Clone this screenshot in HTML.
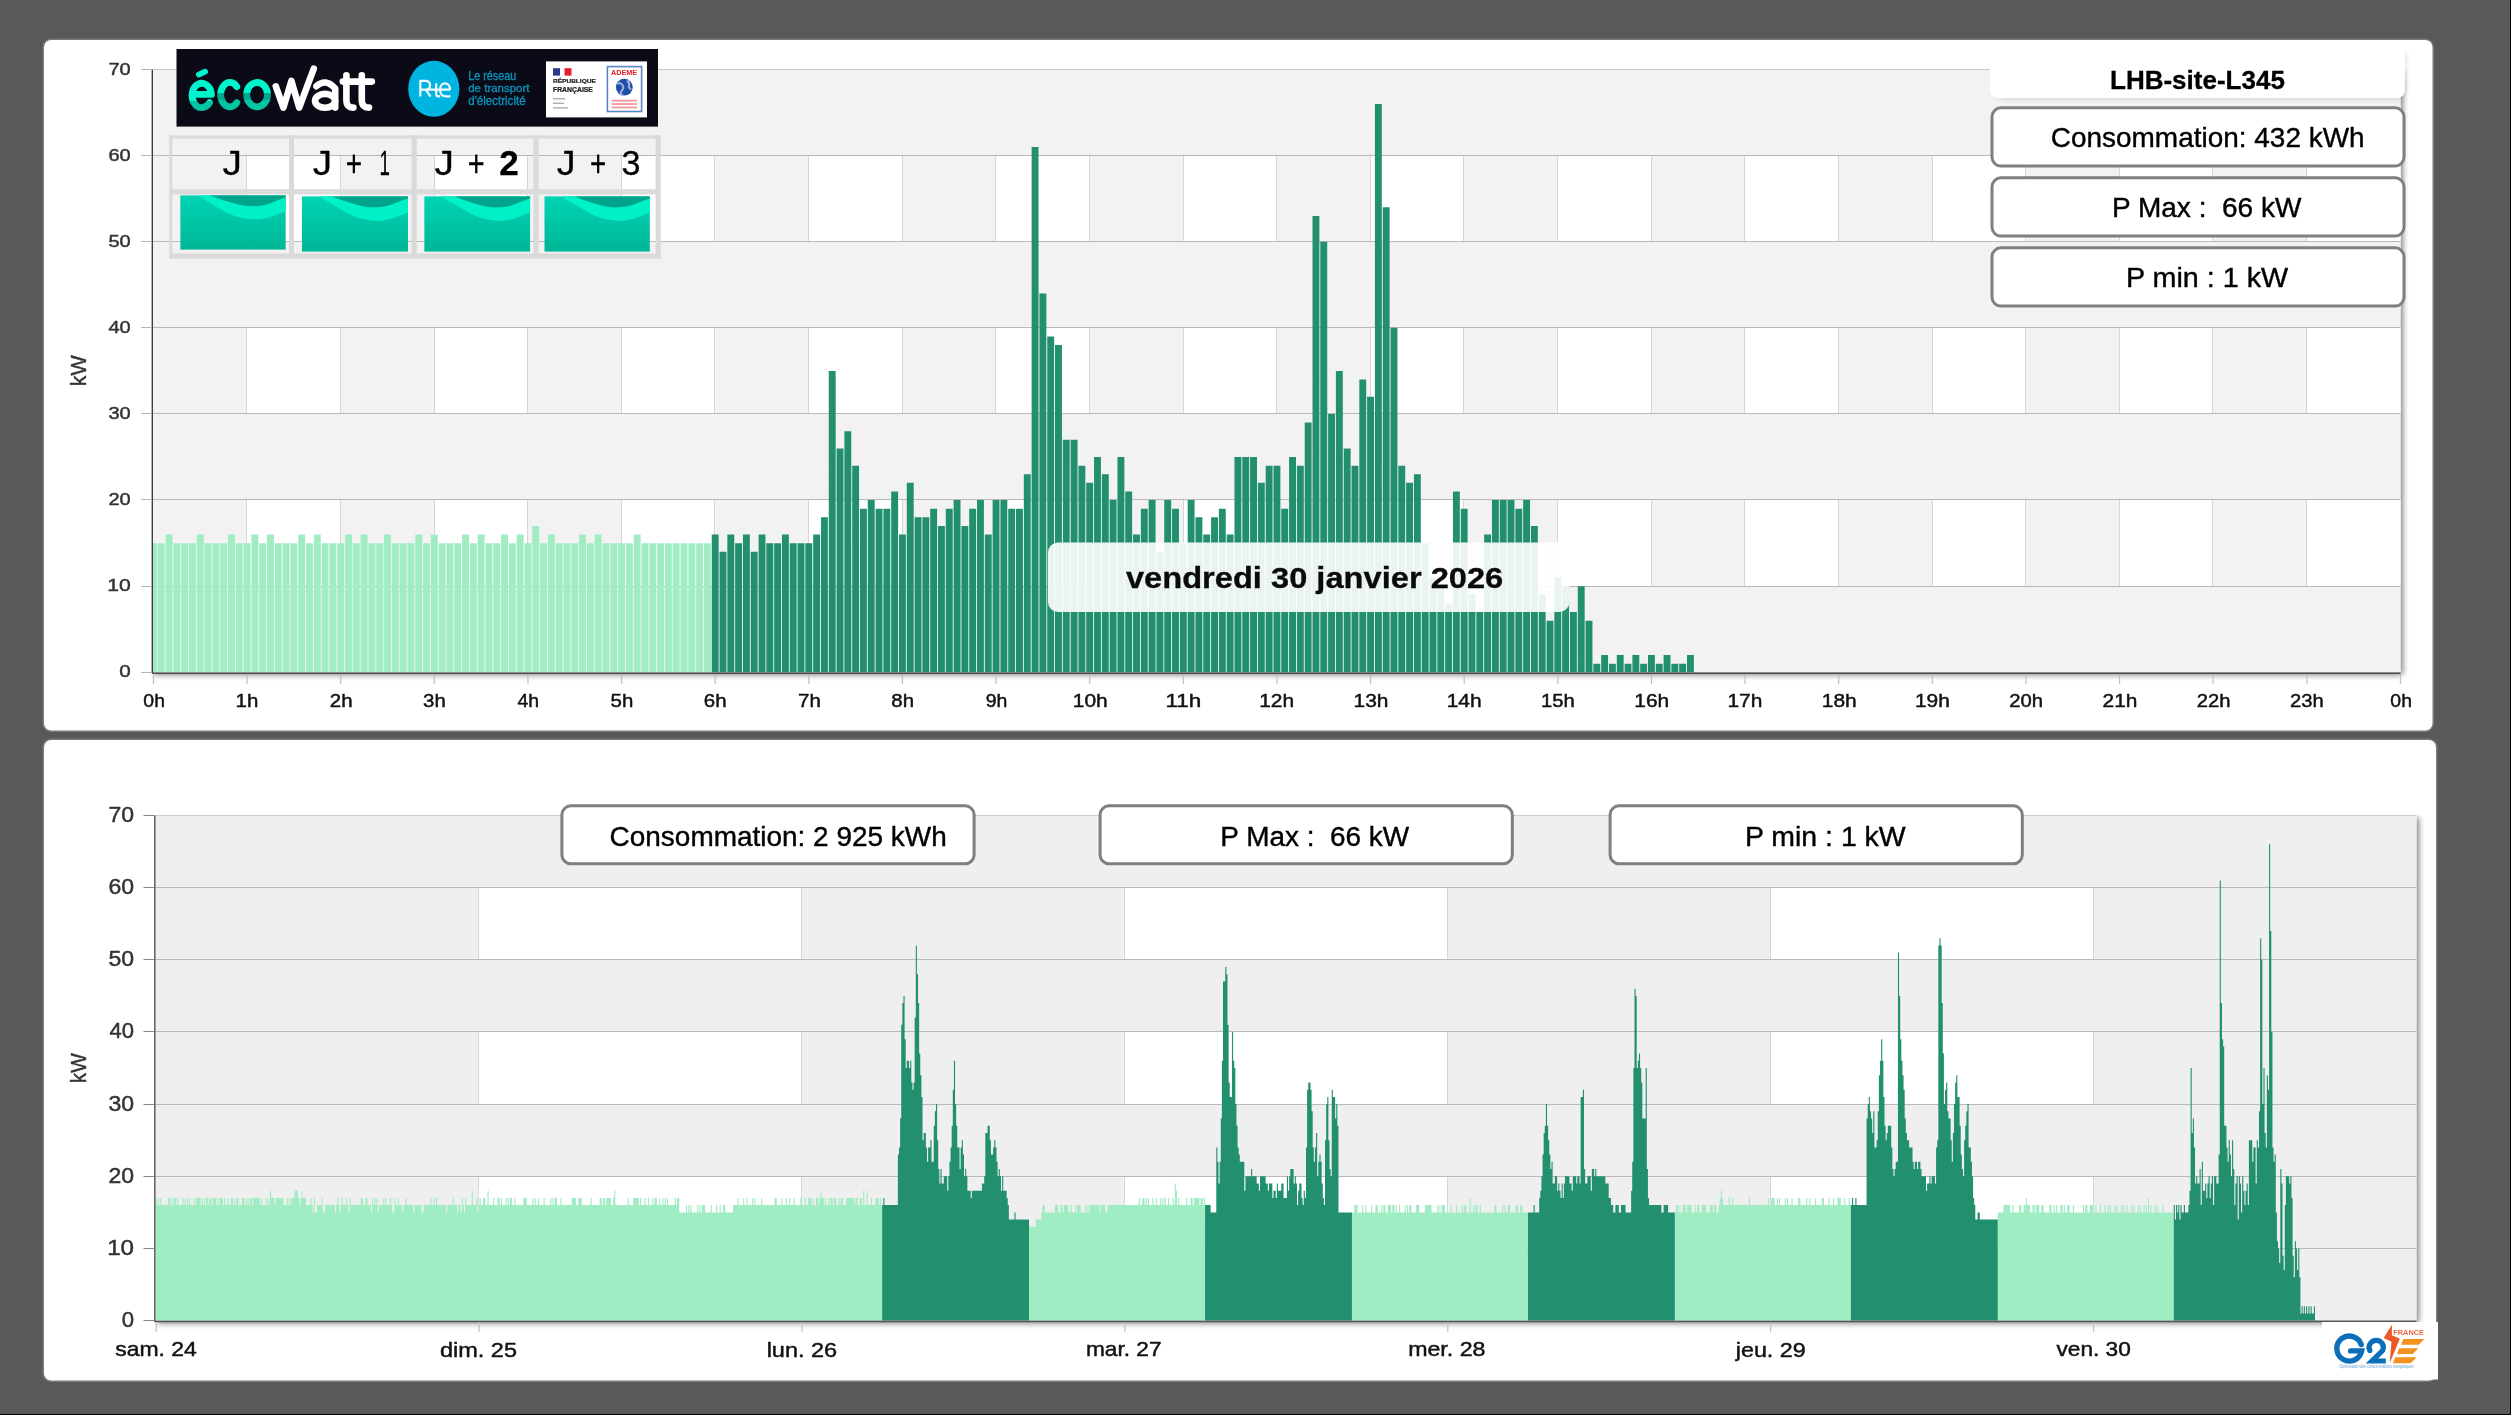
<!DOCTYPE html>
<html><head><meta charset="utf-8"><style>
html,body{margin:0;padding:0;width:2511px;height:1415px;overflow:hidden;background:#595959;}
</style></head><body>
<svg xmlns="http://www.w3.org/2000/svg" width="2511" height="1415" viewBox="0 0 2511 1415" style="position:absolute;left:0;top:0;will-change:transform"><defs><filter id="sh" x="-5%" y="-5%" width="110%" height="115%"><feGaussianBlur stdDeviation="3"/></filter><clipPath id="ct"><rect x="152.5" y="68.5" width="2248.0" height="604.0"/></clipPath><clipPath id="cb"><rect x="155.0" y="814.4" width="2261.5" height="506.6"/></clipPath><linearGradient id="wv" x1="0" y1="0" x2="0" y2="1"><stop offset="0" stop-color="#00d4b4"/><stop offset="1" stop-color="#00b696"/></linearGradient><linearGradient id="eco" x1="0" y1="0" x2="0" y2="1"><stop offset="0.55" stop-color="#00f0c8"/><stop offset="0.56" stop-color="#00c6a2"/></linearGradient></defs><rect x="0" y="0" width="2511" height="1415" fill="#595959"/><rect x="2510" y="0" width="1" height="1415" fill="#000"/><rect x="0" y="1414" width="2511" height="1" fill="#000"/><rect x="43.25" y="39.25" width="2390" height="692" rx="8" fill="#fff" stroke="#7a7a7a" stroke-width="1.5"/><rect x="43.25" y="739.25" width="2393.5" height="642" rx="8" fill="#fff" stroke="#7a7a7a" stroke-width="1.5"/><clipPath id="shc152"><rect x="2400.5" y="69.5" width="20" height="623.0"/><rect x="152.5" y="672.5" width="2268.0" height="20"/></clipPath><g clip-path="url(#shc152)"><rect x="154.5" y="71.5" width="2248.0" height="603.0" fill="#000" opacity="0.55" filter="url(#sh)"/></g><rect x="152.5" y="69.5" width="2248.0" height="603.0" fill="#f2f2f2"/><rect x="247.07" y="500.08" width="93.62" height="86.11" fill="#fff"/><rect x="434.32" y="500.08" width="93.63" height="86.11" fill="#fff"/><rect x="621.58" y="500.08" width="93.62" height="86.11" fill="#fff"/><rect x="808.83" y="500.08" width="93.62" height="86.11" fill="#fff"/><rect x="996.08" y="500.08" width="93.62" height="86.11" fill="#fff"/><rect x="1183.33" y="500.08" width="93.62" height="86.11" fill="#fff"/><rect x="1370.58" y="500.08" width="93.62" height="86.11" fill="#fff"/><rect x="1557.83" y="500.08" width="93.62" height="86.11" fill="#fff"/><rect x="1745.08" y="500.08" width="93.62" height="86.11" fill="#fff"/><rect x="1932.33" y="500.08" width="93.62" height="86.11" fill="#fff"/><rect x="2119.57" y="500.08" width="93.62" height="86.11" fill="#fff"/><rect x="2306.82" y="500.08" width="93.62" height="86.11" fill="#fff"/><rect x="246" y="500.08" width="1" height="86.11" fill="#d6d6d6"/><rect x="340" y="500.08" width="1" height="86.11" fill="#d6d6d6"/><rect x="434" y="500.08" width="1" height="86.11" fill="#d6d6d6"/><rect x="527" y="500.08" width="1" height="86.11" fill="#d6d6d6"/><rect x="621" y="500.08" width="1" height="86.11" fill="#d6d6d6"/><rect x="714" y="500.08" width="1" height="86.11" fill="#d6d6d6"/><rect x="808" y="500.08" width="1" height="86.11" fill="#d6d6d6"/><rect x="902" y="500.08" width="1" height="86.11" fill="#d6d6d6"/><rect x="995" y="500.08" width="1" height="86.11" fill="#d6d6d6"/><rect x="1089" y="500.08" width="1" height="86.11" fill="#d6d6d6"/><rect x="1183" y="500.08" width="1" height="86.11" fill="#d6d6d6"/><rect x="1276" y="500.08" width="1" height="86.11" fill="#d6d6d6"/><rect x="1370" y="500.08" width="1" height="86.11" fill="#d6d6d6"/><rect x="1463" y="500.08" width="1" height="86.11" fill="#d6d6d6"/><rect x="1557" y="500.08" width="1" height="86.11" fill="#d6d6d6"/><rect x="1651" y="500.08" width="1" height="86.11" fill="#d6d6d6"/><rect x="1744" y="500.08" width="1" height="86.11" fill="#d6d6d6"/><rect x="1838" y="500.08" width="1" height="86.11" fill="#d6d6d6"/><rect x="1932" y="500.08" width="1" height="86.11" fill="#d6d6d6"/><rect x="2025" y="500.08" width="1" height="86.11" fill="#d6d6d6"/><rect x="2119" y="500.08" width="1" height="86.11" fill="#d6d6d6"/><rect x="2212" y="500.08" width="1" height="86.11" fill="#d6d6d6"/><rect x="2306" y="500.08" width="1" height="86.11" fill="#d6d6d6"/><rect x="247.07" y="327.86" width="93.62" height="86.11" fill="#fff"/><rect x="434.32" y="327.86" width="93.63" height="86.11" fill="#fff"/><rect x="621.58" y="327.86" width="93.62" height="86.11" fill="#fff"/><rect x="808.83" y="327.86" width="93.62" height="86.11" fill="#fff"/><rect x="996.08" y="327.86" width="93.62" height="86.11" fill="#fff"/><rect x="1183.33" y="327.86" width="93.62" height="86.11" fill="#fff"/><rect x="1370.58" y="327.86" width="93.62" height="86.11" fill="#fff"/><rect x="1557.83" y="327.86" width="93.62" height="86.11" fill="#fff"/><rect x="1745.08" y="327.86" width="93.62" height="86.11" fill="#fff"/><rect x="1932.33" y="327.86" width="93.62" height="86.11" fill="#fff"/><rect x="2119.57" y="327.86" width="93.62" height="86.11" fill="#fff"/><rect x="2306.82" y="327.86" width="93.62" height="86.11" fill="#fff"/><rect x="246" y="327.86" width="1" height="86.11" fill="#d6d6d6"/><rect x="340" y="327.86" width="1" height="86.11" fill="#d6d6d6"/><rect x="434" y="327.86" width="1" height="86.11" fill="#d6d6d6"/><rect x="527" y="327.86" width="1" height="86.11" fill="#d6d6d6"/><rect x="621" y="327.86" width="1" height="86.11" fill="#d6d6d6"/><rect x="714" y="327.86" width="1" height="86.11" fill="#d6d6d6"/><rect x="808" y="327.86" width="1" height="86.11" fill="#d6d6d6"/><rect x="902" y="327.86" width="1" height="86.11" fill="#d6d6d6"/><rect x="995" y="327.86" width="1" height="86.11" fill="#d6d6d6"/><rect x="1089" y="327.86" width="1" height="86.11" fill="#d6d6d6"/><rect x="1183" y="327.86" width="1" height="86.11" fill="#d6d6d6"/><rect x="1276" y="327.86" width="1" height="86.11" fill="#d6d6d6"/><rect x="1370" y="327.86" width="1" height="86.11" fill="#d6d6d6"/><rect x="1463" y="327.86" width="1" height="86.11" fill="#d6d6d6"/><rect x="1557" y="327.86" width="1" height="86.11" fill="#d6d6d6"/><rect x="1651" y="327.86" width="1" height="86.11" fill="#d6d6d6"/><rect x="1744" y="327.86" width="1" height="86.11" fill="#d6d6d6"/><rect x="1838" y="327.86" width="1" height="86.11" fill="#d6d6d6"/><rect x="1932" y="327.86" width="1" height="86.11" fill="#d6d6d6"/><rect x="2025" y="327.86" width="1" height="86.11" fill="#d6d6d6"/><rect x="2119" y="327.86" width="1" height="86.11" fill="#d6d6d6"/><rect x="2212" y="327.86" width="1" height="86.11" fill="#d6d6d6"/><rect x="2306" y="327.86" width="1" height="86.11" fill="#d6d6d6"/><rect x="247.07" y="155.64" width="93.62" height="86.11" fill="#fff"/><rect x="434.32" y="155.64" width="93.63" height="86.11" fill="#fff"/><rect x="621.58" y="155.64" width="93.62" height="86.11" fill="#fff"/><rect x="808.83" y="155.64" width="93.62" height="86.11" fill="#fff"/><rect x="996.08" y="155.64" width="93.62" height="86.11" fill="#fff"/><rect x="1183.33" y="155.64" width="93.62" height="86.11" fill="#fff"/><rect x="1370.58" y="155.64" width="93.62" height="86.11" fill="#fff"/><rect x="1557.83" y="155.64" width="93.62" height="86.11" fill="#fff"/><rect x="1745.08" y="155.64" width="93.62" height="86.11" fill="#fff"/><rect x="1932.33" y="155.64" width="93.62" height="86.11" fill="#fff"/><rect x="2119.57" y="155.64" width="93.62" height="86.11" fill="#fff"/><rect x="2306.82" y="155.64" width="93.62" height="86.11" fill="#fff"/><rect x="246" y="155.64" width="1" height="86.11" fill="#d6d6d6"/><rect x="340" y="155.64" width="1" height="86.11" fill="#d6d6d6"/><rect x="434" y="155.64" width="1" height="86.11" fill="#d6d6d6"/><rect x="527" y="155.64" width="1" height="86.11" fill="#d6d6d6"/><rect x="621" y="155.64" width="1" height="86.11" fill="#d6d6d6"/><rect x="714" y="155.64" width="1" height="86.11" fill="#d6d6d6"/><rect x="808" y="155.64" width="1" height="86.11" fill="#d6d6d6"/><rect x="902" y="155.64" width="1" height="86.11" fill="#d6d6d6"/><rect x="995" y="155.64" width="1" height="86.11" fill="#d6d6d6"/><rect x="1089" y="155.64" width="1" height="86.11" fill="#d6d6d6"/><rect x="1183" y="155.64" width="1" height="86.11" fill="#d6d6d6"/><rect x="1276" y="155.64" width="1" height="86.11" fill="#d6d6d6"/><rect x="1370" y="155.64" width="1" height="86.11" fill="#d6d6d6"/><rect x="1463" y="155.64" width="1" height="86.11" fill="#d6d6d6"/><rect x="1557" y="155.64" width="1" height="86.11" fill="#d6d6d6"/><rect x="1651" y="155.64" width="1" height="86.11" fill="#d6d6d6"/><rect x="1744" y="155.64" width="1" height="86.11" fill="#d6d6d6"/><rect x="1838" y="155.64" width="1" height="86.11" fill="#d6d6d6"/><rect x="1932" y="155.64" width="1" height="86.11" fill="#d6d6d6"/><rect x="2025" y="155.64" width="1" height="86.11" fill="#d6d6d6"/><rect x="2119" y="155.64" width="1" height="86.11" fill="#d6d6d6"/><rect x="2212" y="155.64" width="1" height="86.11" fill="#d6d6d6"/><rect x="2306" y="155.64" width="1" height="86.11" fill="#d6d6d6"/><rect x="152.5" y="672" width="2248.0" height="1" fill="#b9b9b9"/><rect x="152.5" y="586" width="2248.0" height="1" fill="#b9b9b9"/><rect x="152.5" y="499" width="2248.0" height="1" fill="#b9b9b9"/><rect x="152.5" y="413" width="2248.0" height="1" fill="#b9b9b9"/><rect x="152.5" y="327" width="2248.0" height="1" fill="#b9b9b9"/><rect x="152.5" y="241" width="2248.0" height="1" fill="#b9b9b9"/><rect x="152.5" y="155" width="2248.0" height="1" fill="#b9b9b9"/><rect x="152.5" y="69" width="2248.0" height="1" fill="#cdcdcd"/><g clip-path="url(#ct)"><path d="M152.50 672.5V543.13H156.90V672.5ZM157.80 672.5V543.13H164.70V672.5ZM165.60 672.5V534.52H172.50V672.5ZM173.41 672.5V543.13H180.31V672.5ZM181.21 672.5V543.13H188.11V672.5ZM189.01 672.5V543.13H195.91V672.5ZM196.81 672.5V534.52H203.71V672.5ZM204.61 672.5V543.13H211.51V672.5ZM212.42 672.5V543.13H219.32V672.5ZM220.22 672.5V543.13H227.12V672.5ZM228.02 672.5V534.52H234.92V672.5ZM235.82 672.5V543.13H242.72V672.5ZM243.62 672.5V543.13H250.52V672.5ZM251.43 672.5V534.52H258.33V672.5ZM259.23 672.5V543.13H266.13V672.5ZM267.03 672.5V534.52H273.93V672.5ZM274.83 672.5V543.13H281.73V672.5ZM282.63 672.5V543.13H289.53V672.5ZM290.44 672.5V543.13H297.34V672.5ZM298.24 672.5V534.52H305.14V672.5ZM306.04 672.5V543.13H312.94V672.5ZM313.84 672.5V534.52H320.74V672.5ZM321.64 672.5V543.13H328.54V672.5ZM329.45 672.5V543.13H336.35V672.5ZM337.25 672.5V543.13H344.15V672.5ZM345.05 672.5V534.52H351.95V672.5ZM352.85 672.5V543.13H359.75V672.5ZM360.65 672.5V534.52H367.55V672.5ZM368.46 672.5V543.13H375.36V672.5ZM376.26 672.5V543.13H383.16V672.5ZM384.06 672.5V534.52H390.96V672.5ZM391.86 672.5V543.13H398.76V672.5ZM399.66 672.5V543.13H406.56V672.5ZM407.47 672.5V543.13H414.37V672.5ZM415.27 672.5V534.52H422.17V672.5ZM423.07 672.5V543.13H429.97V672.5ZM430.87 672.5V534.52H437.77V672.5ZM438.67 672.5V543.13H445.57V672.5ZM446.48 672.5V543.13H453.38V672.5ZM454.28 672.5V543.13H461.18V672.5ZM462.08 672.5V534.52H468.98V672.5ZM469.88 672.5V543.13H476.78V672.5ZM477.68 672.5V534.52H484.58V672.5ZM485.49 672.5V543.13H492.39V672.5ZM493.29 672.5V543.13H500.19V672.5ZM501.09 672.5V534.52H507.99V672.5ZM508.89 672.5V543.13H515.79V672.5ZM516.69 672.5V534.52H523.59V672.5ZM524.50 672.5V543.13H531.40V672.5ZM532.30 672.5V525.91H539.20V672.5ZM540.10 672.5V543.13H547.00V672.5ZM547.90 672.5V534.52H554.80V672.5ZM555.70 672.5V543.13H562.60V672.5ZM563.51 672.5V543.13H570.41V672.5ZM571.31 672.5V543.13H578.21V672.5ZM579.11 672.5V534.52H586.01V672.5ZM586.91 672.5V543.13H593.81V672.5ZM594.71 672.5V534.52H601.61V672.5ZM602.52 672.5V543.13H609.42V672.5ZM610.32 672.5V543.13H617.22V672.5ZM618.12 672.5V543.13H625.02V672.5ZM625.92 672.5V543.13H632.82V672.5ZM633.72 672.5V534.52H640.62V672.5ZM641.53 672.5V543.13H648.43V672.5ZM649.33 672.5V543.13H656.23V672.5ZM657.13 672.5V543.13H664.03V672.5ZM664.93 672.5V543.13H671.83V672.5ZM672.73 672.5V543.13H679.63V672.5ZM680.54 672.5V543.13H687.44V672.5ZM688.34 672.5V543.13H695.24V672.5ZM696.14 672.5V543.13H703.04V672.5ZM703.94 672.5V543.13H710.84V672.5Z" fill="#a0edc3"/><path d="M711.74 672.5V534.52H718.64V672.5ZM719.55 672.5V551.75H726.45V672.5ZM727.35 672.5V534.52H734.25V672.5ZM735.15 672.5V543.13H742.05V672.5ZM742.95 672.5V534.52H749.85V672.5ZM750.75 672.5V551.75H757.65V672.5ZM758.56 672.5V534.52H765.46V672.5ZM766.36 672.5V543.13H773.26V672.5ZM774.16 672.5V543.13H781.06V672.5ZM781.96 672.5V534.52H788.86V672.5ZM789.76 672.5V543.13H796.66V672.5ZM797.57 672.5V543.13H804.47V672.5ZM805.37 672.5V543.13H812.27V672.5ZM813.17 672.5V534.52H820.07V672.5ZM820.97 672.5V517.30H827.87V672.5ZM828.77 672.5V370.91H835.67V672.5ZM836.58 672.5V448.41H843.48V672.5ZM844.38 672.5V431.19H851.28V672.5ZM852.18 672.5V465.64H859.08V672.5ZM859.98 672.5V508.69H866.88V672.5ZM867.78 672.5V500.08H874.68V672.5ZM875.59 672.5V508.69H882.49V672.5ZM883.39 672.5V508.69H890.29V672.5ZM891.19 672.5V491.47H898.09V672.5ZM898.99 672.5V534.52H905.89V672.5ZM906.79 672.5V482.86H913.69V672.5ZM914.60 672.5V517.30H921.50V672.5ZM922.40 672.5V517.30H929.30V672.5ZM930.20 672.5V508.69H937.10V672.5ZM938.00 672.5V525.91H944.90V672.5ZM945.80 672.5V508.69H952.70V672.5ZM953.61 672.5V500.08H960.51V672.5ZM961.41 672.5V525.91H968.31V672.5ZM969.21 672.5V508.69H976.11V672.5ZM977.01 672.5V500.08H983.91V672.5ZM984.81 672.5V534.52H991.71V672.5ZM992.62 672.5V500.08H999.52V672.5ZM1000.42 672.5V500.08H1007.32V672.5ZM1008.22 672.5V508.69H1015.12V672.5ZM1016.02 672.5V508.69H1022.92V672.5ZM1023.82 672.5V474.25H1030.72V672.5ZM1031.63 672.5V147.03H1038.53V672.5ZM1039.43 672.5V293.42H1046.33V672.5ZM1047.23 672.5V336.47H1054.13V672.5ZM1055.03 672.5V345.08H1061.93V672.5ZM1062.83 672.5V439.80H1069.73V672.5ZM1070.64 672.5V439.80H1077.54V672.5ZM1078.44 672.5V465.64H1085.34V672.5ZM1086.24 672.5V482.86H1093.14V672.5ZM1094.04 672.5V457.02H1100.94V672.5ZM1101.84 672.5V474.25H1108.74V672.5ZM1109.65 672.5V500.08H1116.55V672.5ZM1117.45 672.5V457.02H1124.35V672.5ZM1125.25 672.5V491.47H1132.15V672.5ZM1133.05 672.5V534.52H1139.95V672.5ZM1140.85 672.5V508.69H1147.75V672.5ZM1148.66 672.5V500.08H1155.56V672.5ZM1156.46 672.5V551.75H1163.36V672.5ZM1164.26 672.5V500.08H1171.16V672.5ZM1172.06 672.5V508.69H1178.96V672.5ZM1179.86 672.5V543.13H1186.76V672.5ZM1187.67 672.5V500.08H1194.57V672.5ZM1195.47 672.5V517.30H1202.37V672.5ZM1203.27 672.5V534.52H1210.17V672.5ZM1211.07 672.5V517.30H1217.97V672.5ZM1218.87 672.5V508.69H1225.77V672.5ZM1226.68 672.5V534.52H1233.58V672.5ZM1234.48 672.5V457.02H1241.38V672.5ZM1242.28 672.5V457.02H1249.18V672.5ZM1250.08 672.5V457.02H1256.98V672.5ZM1257.88 672.5V482.86H1264.78V672.5ZM1265.69 672.5V465.64H1272.59V672.5ZM1273.49 672.5V465.64H1280.39V672.5ZM1281.29 672.5V508.69H1288.19V672.5ZM1289.09 672.5V457.02H1295.99V672.5ZM1296.89 672.5V465.64H1303.79V672.5ZM1304.70 672.5V422.58H1311.60V672.5ZM1312.50 672.5V215.92H1319.40V672.5ZM1320.30 672.5V241.75H1327.20V672.5ZM1328.10 672.5V413.97H1335.00V672.5ZM1335.90 672.5V370.91H1342.80V672.5ZM1343.71 672.5V448.41H1350.61V672.5ZM1351.51 672.5V465.64H1358.41V672.5ZM1359.31 672.5V379.53H1366.21V672.5ZM1367.11 672.5V396.75H1374.01V672.5ZM1374.91 672.5V103.97H1381.81V672.5ZM1382.72 672.5V207.31H1389.62V672.5ZM1390.52 672.5V327.86H1397.42V672.5ZM1398.32 672.5V465.64H1405.22V672.5ZM1406.12 672.5V482.86H1413.02V672.5ZM1413.92 672.5V474.25H1420.82V672.5ZM1421.73 672.5V543.13H1428.63V672.5ZM1429.53 672.5V577.58H1436.43V672.5ZM1437.33 672.5V586.19H1444.23V672.5ZM1445.13 672.5V603.41H1452.03V672.5ZM1452.93 672.5V491.47H1459.83V672.5ZM1460.74 672.5V508.69H1467.64V672.5ZM1468.54 672.5V594.80H1475.44V672.5ZM1476.34 672.5V612.02H1483.24V672.5ZM1484.14 672.5V534.52H1491.04V672.5ZM1491.94 672.5V500.08H1498.84V672.5ZM1499.75 672.5V500.08H1506.65V672.5ZM1507.55 672.5V500.08H1514.45V672.5ZM1515.35 672.5V508.69H1522.25V672.5ZM1523.15 672.5V500.08H1530.05V672.5ZM1530.95 672.5V525.91H1537.85V672.5ZM1538.76 672.5V594.80H1545.66V672.5ZM1546.56 672.5V620.63H1553.46V672.5ZM1554.36 672.5V577.58H1561.26V672.5ZM1562.16 672.5V586.19H1569.06V672.5ZM1569.96 672.5V612.02H1576.86V672.5ZM1577.77 672.5V586.19H1584.67V672.5ZM1585.57 672.5V620.63H1592.47V672.5ZM1593.37 672.5V663.69H1600.27V672.5ZM1601.17 672.5V655.08H1608.07V672.5ZM1608.97 672.5V663.69H1615.87V672.5ZM1616.78 672.5V655.08H1623.68V672.5ZM1624.58 672.5V663.69H1631.48V672.5ZM1632.38 672.5V655.08H1639.28V672.5ZM1640.18 672.5V663.69H1647.08V672.5ZM1647.98 672.5V655.08H1654.88V672.5ZM1655.79 672.5V663.69H1662.69V672.5ZM1663.59 672.5V655.08H1670.49V672.5ZM1671.39 672.5V663.69H1678.29V672.5ZM1679.19 672.5V663.69H1686.09V672.5ZM1686.99 672.5V655.08H1693.89V672.5Z" fill="#22906f"/></g><rect x="151.6" y="69.5" width="1.4" height="604.0" fill="#3c3c3c"/><rect x="152.5" y="672.6" width="2248.0" height="1.4" fill="#4a4a4a"/><rect x="141" y="672" width="11" height="1" fill="#b4b4b4"/><rect x="141" y="586" width="11" height="1" fill="#b4b4b4"/><rect x="141" y="499" width="11" height="1" fill="#b4b4b4"/><rect x="141" y="413" width="11" height="1" fill="#b4b4b4"/><rect x="141" y="327" width="11" height="1" fill="#b4b4b4"/><rect x="141" y="241" width="11" height="1" fill="#b4b4b4"/><rect x="141" y="155" width="11" height="1" fill="#b4b4b4"/><rect x="141" y="69" width="11" height="1" fill="#b4b4b4"/><rect x="152.85" y="674" width="1.2" height="10" fill="#c0c0c0"/><rect x="246.47" y="674" width="1.2" height="10" fill="#c0c0c0"/><rect x="340.10" y="674" width="1.2" height="10" fill="#c0c0c0"/><rect x="433.72" y="674" width="1.2" height="10" fill="#c0c0c0"/><rect x="527.35" y="674" width="1.2" height="10" fill="#c0c0c0"/><rect x="620.98" y="674" width="1.2" height="10" fill="#c0c0c0"/><rect x="714.60" y="674" width="1.2" height="10" fill="#c0c0c0"/><rect x="808.23" y="674" width="1.2" height="10" fill="#c0c0c0"/><rect x="901.85" y="674" width="1.2" height="10" fill="#c0c0c0"/><rect x="995.48" y="674" width="1.2" height="10" fill="#c0c0c0"/><rect x="1089.10" y="674" width="1.2" height="10" fill="#c0c0c0"/><rect x="1182.73" y="674" width="1.2" height="10" fill="#c0c0c0"/><rect x="1276.35" y="674" width="1.2" height="10" fill="#c0c0c0"/><rect x="1369.98" y="674" width="1.2" height="10" fill="#c0c0c0"/><rect x="1463.60" y="674" width="1.2" height="10" fill="#c0c0c0"/><rect x="1557.23" y="674" width="1.2" height="10" fill="#c0c0c0"/><rect x="1650.85" y="674" width="1.2" height="10" fill="#c0c0c0"/><rect x="1744.48" y="674" width="1.2" height="10" fill="#c0c0c0"/><rect x="1838.10" y="674" width="1.2" height="10" fill="#c0c0c0"/><rect x="1931.73" y="674" width="1.2" height="10" fill="#c0c0c0"/><rect x="2025.35" y="674" width="1.2" height="10" fill="#c0c0c0"/><rect x="2118.97" y="674" width="1.2" height="10" fill="#c0c0c0"/><rect x="2212.60" y="674" width="1.2" height="10" fill="#c0c0c0"/><rect x="2306.22" y="674" width="1.2" height="10" fill="#c0c0c0"/><rect x="2399.85" y="674" width="1.2" height="10" fill="#c0c0c0"/><g transform="matrix(1.17778 0 0 0.96154 -23.489 24.815)"><text x="131" y="678.6" font-family='"Liberation Sans", sans-serif' font-size="17.5" font-weight="normal" text-anchor="end" style="white-space:pre"  stroke="#333" stroke-width="0.45" fill="#333">0</text></g><g transform="matrix(1.21111 0 0 0.96154 -27.856 21.508)"><text x="131" y="592.5" font-family='"Liberation Sans", sans-serif' font-size="17.5" font-weight="normal" text-anchor="end" style="white-space:pre"  stroke="#333" stroke-width="0.45" fill="#333">10</text></g><g transform="matrix(1.14737 0 0 0.96154 -19.505 18.162)"><text x="131" y="506.4" font-family='"Liberation Sans", sans-serif' font-size="17.5" font-weight="normal" text-anchor="end" style="white-space:pre"  stroke="#333" stroke-width="0.45" fill="#333">20</text></g><g transform="matrix(1.14737 0 0 0.96154 -19.505 14.854)"><text x="131" y="420.3" font-family='"Liberation Sans", sans-serif' font-size="17.5" font-weight="normal" text-anchor="end" style="white-space:pre"  stroke="#333" stroke-width="0.45" fill="#333">30</text></g><g transform="matrix(1.14737 0 0 0.96154 -19.505 11.546)"><text x="131" y="334.2" font-family='"Liberation Sans", sans-serif' font-size="17.5" font-weight="normal" text-anchor="end" style="white-space:pre"  stroke="#333" stroke-width="0.45" fill="#333">40</text></g><g transform="matrix(1.14737 0 0 0.96154 -19.505 8.238)"><text x="131" y="248.0" font-family='"Liberation Sans", sans-serif' font-size="17.5" font-weight="normal" text-anchor="end" style="white-space:pre"  stroke="#333" stroke-width="0.45" fill="#333">50</text></g><g transform="matrix(1.14737 0 0 0.96154 -19.505 4.931)"><text x="131" y="161.9" font-family='"Liberation Sans", sans-serif' font-size="17.5" font-weight="normal" text-anchor="end" style="white-space:pre"  stroke="#333" stroke-width="0.45" fill="#333">60</text></g><g transform="matrix(1.14737 0 0 0.96154 -19.505 1.623)"><text x="131" y="75.8" font-family='"Liberation Sans", sans-serif' font-size="17.5" font-weight="normal" text-anchor="end" style="white-space:pre"  stroke="#333" stroke-width="0.45" fill="#333">70</text></g><g transform="matrix(0.96111 0 0 0.93125 3.344 26.269)"><text transform="translate(86,370) rotate(-90)" font-family='"Liberation Sans", sans-serif' font-size="23" font-weight="normal" text-anchor="middle" style="white-space:pre"  stroke="#333" stroke-width="0.4" fill="#333">kW</text></g><g transform="matrix(1.05000 0 0 1.03077 -6.900 -21.854)"><text x="153.4" y="706.9" font-family='"Liberation Sans", sans-serif' font-size="18.5" font-weight="normal" text-anchor="middle" style="white-space:pre"  stroke="#111" stroke-width="0.45" fill="#111">0h</text></g><g transform="matrix(1.10526 0 0 1.03077 -26.178 -21.854)"><text x="247.1" y="706.9" font-family='"Liberation Sans", sans-serif' font-size="18.5" font-weight="normal" text-anchor="middle" style="white-space:pre"  stroke="#111" stroke-width="0.45" fill="#111">1h</text></g><g transform="matrix(1.10526 0 0 1.03077 -35.342 -21.854)"><text x="340.7" y="706.9" font-family='"Liberation Sans", sans-serif' font-size="18.5" font-weight="normal" text-anchor="middle" style="white-space:pre"  stroke="#111" stroke-width="0.45" fill="#111">2h</text></g><g transform="matrix(1.10526 0 0 1.03077 -45.612 -21.854)"><text x="434.3" y="706.9" font-family='"Liberation Sans", sans-serif' font-size="18.5" font-weight="normal" text-anchor="middle" style="white-space:pre"  stroke="#111" stroke-width="0.45" fill="#111">3h</text></g><g transform="matrix(1.05000 0 0 1.03077 -26.150 -21.854)"><text x="528.0" y="706.9" font-family='"Liberation Sans", sans-serif' font-size="18.5" font-weight="normal" text-anchor="middle" style="white-space:pre"  stroke="#111" stroke-width="0.45" fill="#111">4h</text></g><g transform="matrix(1.10526 0 0 1.03077 -65.046 -21.854)"><text x="621.6" y="706.9" font-family='"Liberation Sans", sans-serif' font-size="18.5" font-weight="normal" text-anchor="middle" style="white-space:pre"  stroke="#111" stroke-width="0.45" fill="#111">5h</text></g><g transform="matrix(1.10526 0 0 1.03077 -75.316 -21.854)"><text x="715.2" y="706.9" font-family='"Liberation Sans", sans-serif' font-size="18.5" font-weight="normal" text-anchor="middle" style="white-space:pre"  stroke="#111" stroke-width="0.45" fill="#111">6h</text></g><g transform="matrix(1.10526 0 0 1.03077 -84.480 -21.854)"><text x="808.8" y="706.9" font-family='"Liberation Sans", sans-serif' font-size="18.5" font-weight="normal" text-anchor="middle" style="white-space:pre"  stroke="#111" stroke-width="0.45" fill="#111">7h</text></g><g transform="matrix(1.10526 0 0 1.03077 -94.750 -21.854)"><text x="902.5" y="706.9" font-family='"Liberation Sans", sans-serif' font-size="18.5" font-weight="normal" text-anchor="middle" style="white-space:pre"  stroke="#111" stroke-width="0.45" fill="#111">8h</text></g><g transform="matrix(1.05000 0 0 1.03077 -49.425 -21.854)"><text x="996.1" y="706.9" font-family='"Liberation Sans", sans-serif' font-size="18.5" font-weight="normal" text-anchor="middle" style="white-space:pre"  stroke="#111" stroke-width="0.45" fill="#111">9h</text></g><g transform="matrix(1.13103 0 0 1.03077 -142.262 -21.854)"><text x="1089.7" y="706.9" font-family='"Liberation Sans", sans-serif' font-size="18.5" font-weight="normal" text-anchor="middle" style="white-space:pre"  stroke="#111" stroke-width="0.45" fill="#111">10h</text></g><g transform="matrix(1.21481 0 0 1.03077 -254.108 -21.854)"><text x="1183.3" y="706.9" font-family='"Liberation Sans", sans-serif' font-size="18.5" font-weight="normal" text-anchor="middle" style="white-space:pre"  stroke="#111" stroke-width="0.45" fill="#111">11h</text></g><g transform="matrix(1.13103 0 0 1.03077 -167.647 -21.854)"><text x="1277.0" y="706.9" font-family='"Liberation Sans", sans-serif' font-size="18.5" font-weight="normal" text-anchor="middle" style="white-space:pre"  stroke="#111" stroke-width="0.45" fill="#111">12h</text></g><g transform="matrix(1.13103 0 0 1.03077 -179.208 -21.854)"><text x="1370.6" y="706.9" font-family='"Liberation Sans", sans-serif' font-size="18.5" font-weight="normal" text-anchor="middle" style="white-space:pre"  stroke="#111" stroke-width="0.45" fill="#111">13h</text></g><g transform="matrix(1.13103 0 0 1.03077 -191.900 -21.854)"><text x="1464.2" y="706.9" font-family='"Liberation Sans", sans-serif' font-size="18.5" font-weight="normal" text-anchor="middle" style="white-space:pre"  stroke="#111" stroke-width="0.45" fill="#111">14h</text></g><g transform="matrix(1.09333 0 0 1.03077 -145.288 -21.854)"><text x="1557.8" y="706.9" font-family='"Liberation Sans", sans-serif' font-size="18.5" font-weight="normal" text-anchor="middle" style="white-space:pre"  stroke="#111" stroke-width="0.45" fill="#111">15h</text></g><g transform="matrix(1.13103 0 0 1.03077 -216.153 -21.854)"><text x="1651.5" y="706.9" font-family='"Liberation Sans", sans-serif' font-size="18.5" font-weight="normal" text-anchor="middle" style="white-space:pre"  stroke="#111" stroke-width="0.45" fill="#111">16h</text></g><g transform="matrix(1.13103 0 0 1.03077 -228.846 -21.854)"><text x="1745.1" y="706.9" font-family='"Liberation Sans", sans-serif' font-size="18.5" font-weight="normal" text-anchor="middle" style="white-space:pre"  stroke="#111" stroke-width="0.45" fill="#111">17h</text></g><g transform="matrix(1.13103 0 0 1.03077 -240.407 -21.854)"><text x="1838.7" y="706.9" font-family='"Liberation Sans", sans-serif' font-size="18.5" font-weight="normal" text-anchor="middle" style="white-space:pre"  stroke="#111" stroke-width="0.45" fill="#111">18h</text></g><g transform="matrix(1.13103 0 0 1.03077 -253.099 -21.854)"><text x="1932.3" y="706.9" font-family='"Liberation Sans", sans-serif' font-size="18.5" font-weight="normal" text-anchor="middle" style="white-space:pre"  stroke="#111" stroke-width="0.45" fill="#111">19h</text></g><g transform="matrix(1.09333 0 0 1.03077 -188.843 -21.854)"><text x="2026.0" y="706.9" font-family='"Liberation Sans", sans-serif' font-size="18.5" font-weight="normal" text-anchor="middle" style="white-space:pre"  stroke="#111" stroke-width="0.45" fill="#111">20h</text></g><g transform="matrix(1.13103 0 0 1.03077 -277.353 -21.854)"><text x="2119.6" y="706.9" font-family='"Liberation Sans", sans-serif' font-size="18.5" font-weight="normal" text-anchor="middle" style="white-space:pre"  stroke="#111" stroke-width="0.45" fill="#111">21h</text></g><g transform="matrix(1.09333 0 0 1.03077 -206.047 -21.854)"><text x="2213.2" y="706.9" font-family='"Liberation Sans", sans-serif' font-size="18.5" font-weight="normal" text-anchor="middle" style="white-space:pre"  stroke="#111" stroke-width="0.45" fill="#111">22h</text></g><g transform="matrix(1.09333 0 0 1.03077 -215.195 -21.854)"><text x="2306.8" y="706.9" font-family='"Liberation Sans", sans-serif' font-size="18.5" font-weight="normal" text-anchor="middle" style="white-space:pre"  stroke="#111" stroke-width="0.45" fill="#111">23h</text></g><g transform="matrix(1.05000 0 0 1.03077 -119.250 -21.854)"><text x="2400.4" y="706.9" font-family='"Liberation Sans", sans-serif' font-size="18.5" font-weight="normal" text-anchor="middle" style="white-space:pre"  stroke="#111" stroke-width="0.45" fill="#111">0h</text></g><clipPath id="shc155"><rect x="2416.5" y="815.4" width="20" height="525.6"/><rect x="155.0" y="1321.0" width="2281.5" height="20"/></clipPath><g clip-path="url(#shc155)"><rect x="157.0" y="817.4" width="2261.5" height="505.6" fill="#000" opacity="0.55" filter="url(#sh)"/></g><rect x="155.0" y="815.4" width="2261.5" height="505.6" fill="#efefef"/><rect x="479.10" y="1176.28" width="322.90" height="72.16" fill="#fff"/><rect x="1124.90" y="1176.28" width="322.90" height="72.16" fill="#fff"/><rect x="1770.70" y="1176.28" width="322.90" height="72.16" fill="#fff"/><rect x="478" y="1176.28" width="1" height="72.16" fill="#d6d6d6"/><rect x="801" y="1176.28" width="1" height="72.16" fill="#d6d6d6"/><rect x="1124" y="1176.28" width="1" height="72.16" fill="#d6d6d6"/><rect x="1447" y="1176.28" width="1" height="72.16" fill="#d6d6d6"/><rect x="1770" y="1176.28" width="1" height="72.16" fill="#d6d6d6"/><rect x="2093" y="1176.28" width="1" height="72.16" fill="#d6d6d6"/><rect x="479.10" y="1031.96" width="322.90" height="72.16" fill="#fff"/><rect x="1124.90" y="1031.96" width="322.90" height="72.16" fill="#fff"/><rect x="1770.70" y="1031.96" width="322.90" height="72.16" fill="#fff"/><rect x="478" y="1031.96" width="1" height="72.16" fill="#d6d6d6"/><rect x="801" y="1031.96" width="1" height="72.16" fill="#d6d6d6"/><rect x="1124" y="1031.96" width="1" height="72.16" fill="#d6d6d6"/><rect x="1447" y="1031.96" width="1" height="72.16" fill="#d6d6d6"/><rect x="1770" y="1031.96" width="1" height="72.16" fill="#d6d6d6"/><rect x="2093" y="1031.96" width="1" height="72.16" fill="#d6d6d6"/><rect x="479.10" y="887.64" width="322.90" height="72.16" fill="#fff"/><rect x="1124.90" y="887.64" width="322.90" height="72.16" fill="#fff"/><rect x="1770.70" y="887.64" width="322.90" height="72.16" fill="#fff"/><rect x="478" y="887.64" width="1" height="72.16" fill="#d6d6d6"/><rect x="801" y="887.64" width="1" height="72.16" fill="#d6d6d6"/><rect x="1124" y="887.64" width="1" height="72.16" fill="#d6d6d6"/><rect x="1447" y="887.64" width="1" height="72.16" fill="#d6d6d6"/><rect x="1770" y="887.64" width="1" height="72.16" fill="#d6d6d6"/><rect x="2093" y="887.64" width="1" height="72.16" fill="#d6d6d6"/><rect x="155.0" y="1320" width="2261.5" height="1" fill="#b9b9b9"/><rect x="155.0" y="1248" width="2261.5" height="1" fill="#b9b9b9"/><rect x="155.0" y="1176" width="2261.5" height="1" fill="#b9b9b9"/><rect x="155.0" y="1104" width="2261.5" height="1" fill="#b9b9b9"/><rect x="155.0" y="1031" width="2261.5" height="1" fill="#b9b9b9"/><rect x="155.0" y="959" width="2261.5" height="1" fill="#b9b9b9"/><rect x="155.0" y="887" width="2261.5" height="1" fill="#b9b9b9"/><rect x="155.0" y="815" width="2261.5" height="1" fill="#cdcdcd"/><g clip-path="url(#cb)"><path d="M155.64 1320.5V1197.9H156.76V1205.1H157.88V1197.9H159.00V1205.1H160.12V1197.9H161.25V1205.1H162.37V1205.1H163.49V1205.1H164.61V1205.1H165.73V1205.1H166.85V1205.1H167.97V1197.9H169.09V1197.9H170.21V1205.1H171.34V1197.9H172.46V1205.1H173.58V1197.9H174.70V1197.9H175.82V1205.1H176.94V1197.9H178.06V1205.1H179.18V1205.1H180.31V1205.1H181.43V1205.1H182.55V1197.9H183.67V1205.1H184.79V1197.9H185.91V1205.1H187.03V1197.9H188.15V1205.1H189.27V1197.9H190.40V1205.1H191.52V1205.1H192.64V1205.1H193.76V1197.9H194.88V1205.1H196.00V1197.9H197.12V1197.9H198.24V1197.9H199.37V1197.9H200.49V1205.1H201.61V1197.9H202.73V1205.1H203.85V1197.9H204.97V1205.1H206.09V1197.9H207.21V1197.9H208.33V1205.1H209.46V1197.9H210.58V1197.9H211.70V1205.1H212.82V1197.9H213.94V1197.9H215.06V1197.9H216.18V1205.1H217.30V1197.9H218.43V1205.1H219.55V1197.9H220.67V1197.9H221.79V1197.9H222.91V1205.1H224.03V1197.9H225.15V1205.1H226.27V1205.1H227.39V1197.9H228.52V1205.1H229.64V1205.1H230.76V1197.9H231.88V1197.9H233.00V1205.1H234.12V1197.9H235.24V1205.1H236.36V1197.9H237.49V1197.9H238.61V1205.1H239.73V1205.1H240.85V1205.1H241.97V1197.9H243.09V1197.9H244.21V1205.1H245.33V1197.9H246.46V1205.1H247.58V1197.9H248.70V1205.1H249.82V1197.9H250.94V1197.9H252.06V1205.1H253.18V1197.9H254.30V1197.9H255.42V1197.9H256.55V1197.9H257.67V1197.9H258.79V1197.9H259.91V1205.1H261.03V1197.9H262.15V1205.1H263.27V1205.1H264.39V1205.1H265.52V1197.9H266.64V1205.1H267.76V1197.9H268.88V1205.1H270.00V1190.7H271.12V1197.9H272.24V1197.9H273.36V1197.9H274.48V1205.1H275.61V1197.9H276.73V1197.9H277.85V1197.9H278.97V1197.9H280.09V1197.9H281.21V1197.9H282.33V1197.9H283.45V1205.1H284.58V1205.1H285.70V1205.1H286.82V1197.9H287.94V1205.1H289.06V1197.9H290.18V1205.1H291.30V1197.9H292.42V1197.9H293.54V1197.9H294.67V1190.7H295.79V1190.7H296.91V1190.7H298.03V1197.9H299.15V1205.1H300.27V1197.9H301.39V1190.7H302.51V1197.9H303.64V1197.9H304.76V1197.9H305.88V1205.1H307.00V1205.1H308.12V1205.1H309.24V1205.1H310.36V1197.9H311.48V1205.1H312.60V1212.4H313.73V1197.9H314.85V1212.4H315.97V1212.4H317.09V1205.1H318.21V1205.1H319.33V1205.1H320.45V1205.1H321.57V1197.9H322.70V1212.4H323.82V1212.4H324.94V1205.1H326.06V1205.1H327.18V1205.1H328.30V1205.1H329.42V1205.1H330.54V1205.1H331.66V1205.1H332.79V1205.1H333.91V1205.1H335.03V1212.4H336.15V1205.1H337.27V1197.9H338.39V1205.1H339.51V1212.4H340.63V1205.1H341.76V1197.9H342.88V1205.1H344.00V1205.1H345.12V1205.1H346.24V1197.9H347.36V1205.1H348.48V1212.4H349.60V1197.9H350.72V1205.1H351.85V1205.1H352.97V1205.1H354.09V1205.1H355.21V1205.1H356.33V1205.1H357.45V1205.1H358.57V1205.1H359.69V1205.1H360.82V1197.9H361.94V1197.9H363.06V1205.1H364.18V1205.1H365.30V1197.9H366.42V1197.9H367.54V1205.1H368.66V1205.1H369.78V1205.1H370.91V1212.4H372.03V1197.9H373.15V1205.1H374.27V1197.9H375.39V1205.1H376.51V1197.9H377.63V1212.4H378.75V1205.1H379.88V1205.1H381.00V1205.1H382.12V1205.1H383.24V1197.9H384.36V1205.1H385.48V1197.9H386.60V1205.1H387.72V1205.1H388.84V1205.1H389.97V1197.9H391.09V1205.1H392.21V1212.4H393.33V1212.4H394.45V1197.9H395.57V1205.1H396.69V1205.1H397.81V1197.9H398.94V1205.1H400.06V1205.1H401.18V1205.1H402.30V1212.4H403.42V1205.1H404.54V1205.1H405.66V1197.9H406.78V1205.1H407.91V1205.1H409.03V1205.1H410.15V1205.1H411.27V1205.1H412.39V1205.1H413.51V1212.4H414.63V1205.1H415.75V1205.1H416.87V1205.1H418.00V1205.1H419.12V1205.1H420.24V1205.1H421.36V1212.4H422.48V1212.4H423.60V1205.1H424.72V1205.1H425.84V1205.1H426.97V1205.1H428.09V1205.1H429.21V1205.1H430.33V1197.9H431.45V1205.1H432.57V1205.1H433.69V1197.9H434.81V1205.1H435.93V1197.9H437.06V1205.1H438.18V1205.1H439.30V1205.1H440.42V1205.1H441.54V1205.1H442.66V1205.1H443.78V1205.1H444.90V1205.1H446.03V1212.4H447.15V1205.1H448.27V1205.1H449.39V1205.1H450.51V1205.1H451.63V1205.1H452.75V1197.9H453.87V1205.1H454.99V1205.1H456.12V1205.1H457.24V1212.4H458.36V1205.1H459.48V1205.1H460.60V1212.4H461.72V1197.9H462.84V1205.1H463.96V1212.4H465.09V1197.9H466.21V1205.1H467.33V1205.1H468.45V1205.1H469.57V1205.1H470.69V1205.1H471.81V1190.7H472.93V1205.1H474.05V1205.1H475.18V1205.1H476.30V1197.9H477.42V1212.4H478.54V1205.1H479.66V1197.9H480.78V1205.1H481.90V1205.1H483.02V1197.9H484.15V1197.9H485.27V1205.1H486.39V1205.1H487.51V1190.7H488.63V1205.1H489.75V1205.1H490.87V1205.1H491.99V1205.1H493.11V1197.9H494.24V1205.1H495.36V1205.1H496.48V1205.1H497.60V1197.9H498.72V1197.9H499.84V1205.1H500.96V1197.9H502.08V1205.1H503.21V1205.1H504.33V1205.1H505.45V1197.9H506.57V1205.1H507.69V1197.9H508.81V1205.1H509.93V1197.9H511.05V1197.9H512.17V1205.1H513.30V1205.1H514.42V1197.9H515.54V1205.1H516.66V1205.1H517.78V1205.1H518.90V1205.1H520.02V1205.1H521.14V1205.1H522.27V1205.1H523.39V1197.9H524.51V1197.9H525.63V1197.9H526.75V1205.1H527.87V1205.1H528.99V1205.1H530.11V1205.1H531.23V1205.1H532.36V1197.9H533.48V1205.1H534.60V1197.9H535.72V1205.1H536.84V1205.1H537.96V1197.9H539.08V1205.1H540.20V1205.1H541.33V1205.1H542.45V1205.1H543.57V1197.9H544.69V1205.1H545.81V1205.1H546.93V1205.1H548.05V1205.1H549.17V1205.1H550.29V1197.9H551.42V1205.1H552.54V1197.9H553.66V1205.1H554.78V1197.9H555.90V1197.9H557.02V1205.1H558.14V1205.1H559.26V1205.1H560.39V1197.9H561.51V1205.1H562.63V1205.1H563.75V1205.1H564.87V1205.1H565.99V1205.1H567.11V1205.1H568.23V1205.1H569.36V1205.1H570.48V1205.1H571.60V1197.9H572.72V1197.9H573.84V1197.9H574.96V1197.9H576.08V1205.1H577.20V1205.1H578.32V1197.9H579.45V1197.9H580.57V1197.9H581.69V1205.1H582.81V1205.1H583.93V1205.1H585.05V1205.1H586.17V1205.1H587.29V1205.1H588.42V1205.1H589.54V1205.1H590.66V1197.9H591.78V1205.1H592.90V1205.1H594.02V1205.1H595.14V1205.1H596.26V1205.1H597.38V1205.1H598.51V1205.1H599.63V1197.9H600.75V1197.9H601.87V1205.1H602.99V1197.9H604.11V1197.9H605.23V1205.1H606.35V1197.9H607.48V1197.9H608.60V1197.9H609.72V1197.9H610.84V1205.1H611.96V1205.1H613.08V1197.9H614.20V1190.7H615.32V1205.1H616.44V1205.1H617.57V1205.1H618.69V1205.1H619.81V1205.1H620.93V1205.1H622.05V1205.1H623.17V1205.1H624.29V1205.1H625.41V1205.1H626.54V1205.1H627.66V1197.9H628.78V1205.1H629.90V1205.1H631.02V1205.1H632.14V1205.1H633.26V1197.9H634.38V1197.9H635.50V1197.9H636.63V1197.9H637.75V1197.9H638.87V1205.1H639.99V1197.9H641.11V1205.1H642.23V1205.1H643.35V1205.1H644.47V1197.9H645.60V1205.1H646.72V1205.1H647.84V1197.9H648.96V1205.1H650.08V1205.1H651.20V1205.1H652.32V1197.9H653.44V1205.1H654.56V1197.9H655.69V1197.9H656.81V1205.1H657.93V1205.1H659.05V1197.9H660.17V1205.1H661.29V1205.1H662.41V1197.9H663.53V1205.1H664.66V1197.9H665.78V1205.1H666.90V1197.9H668.02V1205.1H669.14V1205.1H670.26V1205.1H671.38V1205.1H672.50V1205.1H673.62V1205.1H674.75V1197.9H675.87V1205.1H676.99V1197.9H678.11V1197.9H679.23V1212.4H680.35V1212.4H681.47V1212.4H682.59V1212.4H683.72V1212.4H684.84V1212.4H685.96V1205.1H687.08V1212.4H688.20V1205.1H689.32V1212.4H690.44V1205.1H691.56V1212.4H692.68V1212.4H693.81V1212.4H694.93V1212.4H696.05V1212.4H697.17V1205.1H698.29V1212.4H699.41V1205.1H700.53V1212.4H701.65V1205.1H702.78V1205.1H703.90V1205.1H705.02V1212.4H706.14V1212.4H707.26V1212.4H708.38V1212.4H709.50V1212.4H710.62V1205.1H711.74V1212.4H712.87V1212.4H713.99V1212.4H715.11V1212.4H716.23V1205.1H717.35V1212.4H718.47V1212.4H719.59V1205.1H720.71V1212.4H721.84V1212.4H722.96V1205.1H724.08V1205.1H725.20V1212.4H726.32V1212.4H727.44V1212.4H728.56V1212.4H729.68V1212.4H730.81V1212.4H731.93V1212.4H733.05V1205.1H734.17V1205.1H735.29V1205.1H736.41V1205.1H737.53V1197.9H738.65V1205.1H739.77V1205.1H740.90V1205.1H742.02V1205.1H743.14V1197.9H744.26V1205.1H745.38V1205.1H746.50V1197.9H747.62V1205.1H748.74V1205.1H749.87V1205.1H750.99V1205.1H752.11V1197.9H753.23V1205.1H754.35V1197.9H755.47V1205.1H756.59V1205.1H757.71V1205.1H758.83V1205.1H759.96V1205.1H761.08V1197.9H762.20V1205.1H763.32V1205.1H764.44V1205.1H765.56V1205.1H766.68V1205.1H767.80V1205.1H768.93V1205.1H770.05V1205.1H771.17V1205.1H772.29V1205.1H773.41V1205.1H774.53V1197.9H775.65V1197.9H776.77V1205.1H777.89V1205.1H779.02V1205.1H780.14V1205.1H781.26V1197.9H782.38V1205.1H783.50V1205.1H784.62V1205.1H785.74V1197.9H786.86V1205.1H787.99V1205.1H789.11V1197.9H790.23V1205.1H791.35V1205.1H792.47V1205.1H793.59V1197.9H794.71V1205.1H795.83V1205.1H796.95V1205.1H798.08V1205.1H799.20V1205.1H800.32V1197.9H801.44V1205.1H802.56V1205.1H803.68V1205.1H804.80V1197.9H805.92V1205.1H807.05V1205.1H808.17V1197.9H809.29V1197.9H810.41V1197.9H811.53V1205.1H812.65V1197.9H813.77V1205.1H814.89V1205.1H816.01V1197.9H817.14V1197.9H818.26V1205.1H819.38V1197.9H820.50V1190.7H821.62V1197.9H822.74V1197.9H823.86V1205.1H824.98V1197.9H826.11V1205.1H827.23V1205.1H828.35V1197.9H829.47V1205.1H830.59V1197.9H831.71V1197.9H832.83V1205.1H833.95V1197.9H835.07V1197.9H836.20V1205.1H837.32V1205.1H838.44V1197.9H839.56V1205.1H840.68V1197.9H841.80V1197.9H842.92V1205.1H844.04V1205.1H845.17V1205.1H846.29V1197.9H847.41V1197.9H848.53V1197.9H849.65V1197.9H850.77V1197.9H851.89V1197.9H853.01V1197.9H854.13V1205.1H855.26V1197.9H856.38V1197.9H857.50V1205.1H858.62V1205.1H859.74V1197.9H860.86V1197.9H861.98V1205.1H863.10V1190.7H864.23V1205.1H865.35V1205.1H866.47V1190.7H867.59V1205.1H868.71V1205.1H869.83V1205.1H870.95V1197.9H872.07V1205.1H873.19V1205.1H874.32V1205.1H875.44V1197.9H876.56V1197.9H877.68V1197.9H878.80V1205.1H879.92V1197.9H881.04V1205.1H882.16V1320.5ZM1029.04 1320.5V1226.8H1030.16V1226.8H1031.28V1226.8H1032.40V1226.8H1033.52V1226.8H1034.64V1226.8H1035.77V1219.6H1036.89V1219.6H1038.01V1219.6H1039.13V1219.6H1040.25V1219.6H1041.37V1212.4H1042.49V1205.1H1043.61V1205.1H1044.74V1212.4H1045.86V1212.4H1046.98V1212.4H1048.10V1212.4H1049.22V1212.4H1050.34V1212.4H1051.46V1212.4H1052.58V1212.4H1053.71V1212.4H1054.83V1205.1H1055.95V1205.1H1057.07V1205.1H1058.19V1212.4H1059.31V1212.4H1060.43V1205.1H1061.55V1205.1H1062.67V1212.4H1063.80V1205.1H1064.92V1205.1H1066.04V1205.1H1067.16V1205.1H1068.28V1212.4H1069.40V1212.4H1070.52V1205.1H1071.64V1212.4H1072.77V1212.4H1073.89V1212.4H1075.01V1205.1H1076.13V1212.4H1077.25V1205.1H1078.37V1205.1H1079.49V1205.1H1080.61V1212.4H1081.73V1212.4H1082.86V1212.4H1083.98V1212.4H1085.10V1205.1H1086.22V1212.4H1087.34V1205.1H1088.46V1212.4H1089.58V1205.1H1090.70V1205.1H1091.83V1205.1H1092.95V1205.1H1094.07V1205.1H1095.19V1205.1H1096.31V1205.1H1097.43V1205.1H1098.55V1205.1H1099.67V1212.4H1100.79V1205.1H1101.92V1205.1H1103.04V1205.1H1104.16V1205.1H1105.28V1212.4H1106.40V1212.4H1107.52V1205.1H1108.64V1205.1H1109.76V1205.1H1110.89V1205.1H1112.01V1205.1H1113.13V1205.1H1114.25V1205.1H1115.37V1205.1H1116.49V1205.1H1117.61V1205.1H1118.73V1205.1H1119.85V1205.1H1120.98V1205.1H1122.10V1205.1H1123.22V1205.1H1124.34V1205.1H1125.46V1205.1H1126.58V1205.1H1127.70V1205.1H1128.82V1205.1H1129.95V1205.1H1131.07V1205.1H1132.19V1205.1H1133.31V1205.1H1134.43V1205.1H1135.55V1205.1H1136.67V1205.1H1137.79V1205.1H1138.91V1197.9H1140.04V1205.1H1141.16V1205.1H1142.28V1197.9H1143.40V1197.9H1144.52V1205.1H1145.64V1197.9H1146.76V1205.1H1147.88V1197.9H1149.01V1205.1H1150.13V1205.1H1151.25V1205.1H1152.37V1197.9H1153.49V1205.1H1154.61V1205.1H1155.73V1197.9H1156.85V1205.1H1157.97V1205.1H1159.10V1205.1H1160.22V1197.9H1161.34V1205.1H1162.46V1197.9H1163.58V1205.1H1164.70V1197.9H1165.82V1205.1H1166.94V1205.1H1168.07V1197.9H1169.19V1205.1H1170.31V1205.1H1171.43V1205.1H1172.55V1197.9H1173.67V1205.1H1174.79V1183.5H1175.91V1190.7H1177.03V1205.1H1178.16V1197.9H1179.28V1205.1H1180.40V1205.1H1181.52V1205.1H1182.64V1205.1H1183.76V1205.1H1184.88V1205.1H1186.00V1197.9H1187.13V1205.1H1188.25V1205.1H1189.37V1205.1H1190.49V1197.9H1191.61V1197.9H1192.73V1205.1H1193.85V1197.9H1194.97V1197.9H1196.09V1197.9H1197.22V1197.9H1198.34V1197.9H1199.46V1205.1H1200.58V1197.9H1201.70V1197.9H1202.82V1205.1H1203.94V1197.9H1205.06V1320.5ZM1351.94 1320.5V1212.4H1353.06V1212.4H1354.18V1205.1H1355.30V1205.1H1356.42V1205.1H1357.54V1212.4H1358.67V1212.4H1359.79V1212.4H1360.91V1212.4H1362.03V1205.1H1363.15V1212.4H1364.27V1212.4H1365.39V1205.1H1366.51V1212.4H1367.64V1212.4H1368.76V1212.4H1369.88V1212.4H1371.00V1205.1H1372.12V1212.4H1373.24V1212.4H1374.36V1212.4H1375.48V1205.1H1376.61V1205.1H1377.73V1212.4H1378.85V1212.4H1379.97V1212.4H1381.09V1205.1H1382.21V1212.4H1383.33V1205.1H1384.45V1205.1H1385.57V1212.4H1386.70V1212.4H1387.82V1205.1H1388.94V1205.1H1390.06V1205.1H1391.18V1212.4H1392.30V1205.1H1393.42V1205.1H1394.54V1212.4H1395.67V1205.1H1396.79V1212.4H1397.91V1212.4H1399.03V1205.1H1400.15V1212.4H1401.27V1212.4H1402.39V1212.4H1403.51V1212.4H1404.63V1205.1H1405.76V1212.4H1406.88V1205.1H1408.00V1212.4H1409.12V1205.1H1410.24V1205.1H1411.36V1212.4H1412.48V1212.4H1413.60V1212.4H1414.73V1212.4H1415.85V1205.1H1416.97V1205.1H1418.09V1205.1H1419.21V1212.4H1420.33V1212.4H1421.45V1212.4H1422.57V1212.4H1423.69V1212.4H1424.82V1205.1H1425.94V1205.1H1427.06V1205.1H1428.18V1205.1H1429.30V1205.1H1430.42V1205.1H1431.54V1212.4H1432.66V1212.4H1433.79V1212.4H1434.91V1212.4H1436.03V1212.4H1437.15V1205.1H1438.27V1212.4H1439.39V1205.1H1440.51V1212.4H1441.63V1205.1H1442.75V1205.1H1443.88V1205.1H1445.00V1212.4H1446.12V1212.4H1447.24V1212.4H1448.36V1212.4H1449.48V1212.4H1450.60V1205.1H1451.72V1212.4H1452.85V1212.4H1453.97V1212.4H1455.09V1212.4H1456.21V1205.1H1457.33V1212.4H1458.45V1212.4H1459.57V1212.4H1460.69V1212.4H1461.81V1205.1H1462.94V1212.4H1464.06V1205.1H1465.18V1205.1H1466.30V1212.4H1467.42V1212.4H1468.54V1212.4H1469.66V1197.9H1470.78V1212.4H1471.91V1212.4H1473.03V1205.1H1474.15V1212.4H1475.27V1205.1H1476.39V1205.1H1477.51V1212.4H1478.63V1212.4H1479.75V1205.1H1480.87V1212.4H1482.00V1212.4H1483.12V1212.4H1484.24V1212.4H1485.36V1212.4H1486.48V1212.4H1487.60V1212.4H1488.72V1212.4H1489.84V1212.4H1490.97V1212.4H1492.09V1212.4H1493.21V1212.4H1494.33V1205.1H1495.45V1205.1H1496.57V1212.4H1497.69V1212.4H1498.81V1212.4H1499.93V1212.4H1501.06V1212.4H1502.18V1205.1H1503.30V1212.4H1504.42V1205.1H1505.54V1212.4H1506.66V1212.4H1507.78V1205.1H1508.90V1205.1H1510.03V1212.4H1511.15V1212.4H1512.27V1212.4H1513.39V1212.4H1514.51V1212.4H1515.63V1205.1H1516.75V1205.1H1517.87V1212.4H1518.99V1212.4H1520.12V1205.1H1521.24V1205.1H1522.36V1212.4H1523.48V1212.4H1524.60V1212.4H1525.72V1212.4H1526.84V1212.4H1527.96V1320.5ZM1674.84 1320.5V1212.4H1675.96V1205.1H1677.08V1205.1H1678.20V1212.4H1679.32V1205.1H1680.44V1212.4H1681.57V1212.4H1682.69V1205.1H1683.81V1205.1H1684.93V1205.1H1686.05V1212.4H1687.17V1205.1H1688.29V1205.1H1689.41V1205.1H1690.54V1205.1H1691.66V1212.4H1692.78V1212.4H1693.90V1212.4H1695.02V1205.1H1696.14V1212.4H1697.26V1205.1H1698.38V1205.1H1699.51V1212.4H1700.63V1212.4H1701.75V1205.1H1702.87V1205.1H1703.99V1205.1H1705.11V1205.1H1706.23V1212.4H1707.35V1212.4H1708.47V1212.4H1709.60V1205.1H1710.72V1205.1H1711.84V1205.1H1712.96V1212.4H1714.08V1205.1H1715.20V1205.1H1716.32V1212.4H1717.44V1212.4H1718.57V1205.1H1719.69V1197.9H1720.81V1190.7H1721.93V1197.9H1723.05V1205.1H1724.17V1205.1H1725.29V1205.1H1726.41V1205.1H1727.53V1205.1H1728.66V1197.9H1729.78V1205.1H1730.90V1205.1H1732.02V1197.9H1733.14V1205.1H1734.26V1205.1H1735.38V1205.1H1736.50V1205.1H1737.63V1205.1H1738.75V1205.1H1739.87V1205.1H1740.99V1205.1H1742.11V1205.1H1743.23V1205.1H1744.35V1205.1H1745.47V1205.1H1746.59V1205.1H1747.72V1205.1H1748.84V1197.9H1749.96V1205.1H1751.08V1205.1H1752.20V1205.1H1753.32V1205.1H1754.44V1205.1H1755.56V1205.1H1756.69V1205.1H1757.81V1205.1H1758.93V1205.1H1760.05V1205.1H1761.17V1205.1H1762.29V1205.1H1763.41V1205.1H1764.53V1205.1H1765.65V1205.1H1766.78V1205.1H1767.90V1197.9H1769.02V1205.1H1770.14V1205.1H1771.26V1197.9H1772.38V1197.9H1773.50V1197.9H1774.62V1205.1H1775.75V1205.1H1776.87V1197.9H1777.99V1205.1H1779.11V1197.9H1780.23V1205.1H1781.35V1205.1H1782.47V1205.1H1783.59V1205.1H1784.71V1197.9H1785.84V1205.1H1786.96V1197.9H1788.08V1205.1H1789.20V1205.1H1790.32V1205.1H1791.44V1197.9H1792.56V1205.1H1793.68V1205.1H1794.81V1205.1H1795.93V1205.1H1797.05V1205.1H1798.17V1197.9H1799.29V1197.9H1800.41V1205.1H1801.53V1205.1H1802.65V1205.1H1803.77V1205.1H1804.90V1205.1H1806.02V1197.9H1807.14V1205.1H1808.26V1205.1H1809.38V1197.9H1810.50V1205.1H1811.62V1205.1H1812.74V1205.1H1813.87V1205.1H1814.99V1197.9H1816.11V1205.1H1817.23V1205.1H1818.35V1205.1H1819.47V1205.1H1820.59V1205.1H1821.71V1197.9H1822.83V1197.9H1823.96V1205.1H1825.08V1205.1H1826.20V1205.1H1827.32V1205.1H1828.44V1197.9H1829.56V1205.1H1830.68V1205.1H1831.80V1205.1H1832.93V1197.9H1834.05V1205.1H1835.17V1205.1H1836.29V1205.1H1837.41V1197.9H1838.53V1197.9H1839.65V1197.9H1840.77V1205.1H1841.89V1205.1H1843.02V1205.1H1844.14V1197.9H1845.26V1205.1H1846.38V1205.1H1847.50V1205.1H1848.62V1197.9H1849.74V1205.1H1850.86V1320.5ZM1997.74 1320.5V1212.4H1998.86V1212.4H1999.98V1212.4H2001.10V1212.4H2002.22V1212.4H2003.34V1205.1H2004.47V1205.1H2005.59V1205.1H2006.71V1205.1H2007.83V1205.1H2008.95V1205.1H2010.07V1212.4H2011.19V1212.4H2012.31V1205.1H2013.44V1212.4H2014.56V1212.4H2015.68V1212.4H2016.80V1212.4H2017.92V1212.4H2019.04V1205.1H2020.16V1205.1H2021.28V1212.4H2022.41V1212.4H2023.53V1205.1H2024.65V1205.1H2025.77V1197.9H2026.89V1205.1H2028.01V1205.1H2029.13V1205.1H2030.25V1212.4H2031.37V1212.4H2032.50V1205.1H2033.62V1205.1H2034.74V1212.4H2035.86V1205.1H2036.98V1205.1H2038.10V1205.1H2039.22V1212.4H2040.34V1212.4H2041.47V1205.1H2042.59V1205.1H2043.71V1212.4H2044.83V1212.4H2045.95V1212.4H2047.07V1212.4H2048.19V1212.4H2049.31V1205.1H2050.43V1205.1H2051.56V1212.4H2052.68V1212.4H2053.80V1205.1H2054.92V1212.4H2056.04V1205.1H2057.16V1212.4H2058.28V1212.4H2059.40V1212.4H2060.53V1205.1H2061.65V1205.1H2062.77V1212.4H2063.89V1205.1H2065.01V1212.4H2066.13V1212.4H2067.25V1205.1H2068.37V1205.1H2069.49V1212.4H2070.62V1212.4H2071.74V1212.4H2072.86V1205.1H2073.98V1212.4H2075.10V1212.4H2076.22V1212.4H2077.34V1212.4H2078.46V1212.4H2079.59V1212.4H2080.71V1212.4H2081.83V1212.4H2082.95V1205.1H2084.07V1212.4H2085.19V1205.1H2086.31V1205.1H2087.43V1212.4H2088.55V1212.4H2089.68V1205.1H2090.80V1205.1H2091.92V1205.1H2093.04V1212.4H2094.16V1212.4H2095.28V1205.1H2096.40V1212.4H2097.52V1212.4H2098.65V1212.4H2099.77V1205.1H2100.89V1212.4H2102.01V1212.4H2103.13V1212.4H2104.25V1205.1H2105.37V1212.4H2106.49V1212.4H2107.61V1205.1H2108.74V1212.4H2109.86V1205.1H2110.98V1212.4H2112.10V1212.4H2113.22V1212.4H2114.34V1205.1H2115.46V1212.4H2116.58V1205.1H2117.71V1212.4H2118.83V1212.4H2119.95V1212.4H2121.07V1205.1H2122.19V1212.4H2123.31V1205.1H2124.43V1212.4H2125.55V1212.4H2126.67V1205.1H2127.80V1212.4H2128.92V1212.4H2130.04V1212.4H2131.16V1205.1H2132.28V1212.4H2133.40V1205.1H2134.52V1212.4H2135.64V1212.4H2136.77V1212.4H2137.89V1205.1H2139.01V1212.4H2140.13V1205.1H2141.25V1212.4H2142.37V1212.4H2143.49V1205.1H2144.61V1212.4H2145.73V1205.1H2146.86V1212.4H2147.98V1197.9H2149.10V1212.4H2150.22V1205.1H2151.34V1212.4H2152.46V1212.4H2153.58V1212.4H2154.70V1205.1H2155.83V1212.4H2156.95V1205.1H2158.07V1212.4H2159.19V1212.4H2160.31V1212.4H2161.43V1212.4H2162.55V1205.1H2163.67V1212.4H2164.79V1212.4H2165.92V1212.4H2167.04V1212.4H2168.16V1212.4H2169.28V1212.4H2170.40V1212.4H2171.52V1212.4H2172.64V1212.4H2173.76V1320.5Z" fill="#a0edc3"/><path d="M882.16 1320.5V1205.1H883.29V1197.9H884.41V1205.1H885.53V1205.1H886.65V1205.1H887.77V1205.1H888.89V1205.1H890.01V1205.1H891.13V1205.1H892.26V1205.1H893.38V1205.1H894.50V1205.1H895.62V1205.1H896.74V1205.1H897.86V1154.6H898.98V1147.4H900.10V1118.6H901.22V1024.7H902.35V1003.1H903.47V995.9H904.59V1039.2H905.71V1068.0H906.83V1060.8H907.95V1060.8H909.07V1068.0H910.19V1060.8H911.32V1082.5H912.44V1089.7H913.56V1082.5H914.68V1017.5H915.80V945.4H916.92V974.2H918.04V1003.1H919.16V1053.6H920.28V1075.3H921.41V1096.9H922.53V1140.2H923.65V1133.0H924.77V1133.0H925.89V1147.4H927.01V1161.8H928.13V1147.4H929.25V1147.4H930.38V1140.2H931.50V1161.8H932.62V1161.8H933.74V1125.8H934.86V1111.3H935.98V1104.1H937.10V1140.2H938.22V1169.1H939.34V1183.5H940.47V1169.1H941.59V1183.5H942.71V1183.5H943.83V1176.3H944.95V1176.3H946.07V1176.3H947.19V1190.7H948.31V1176.3H949.44V1161.8H950.56V1147.4H951.68V1125.8H952.80V1089.7H953.92V1060.8H955.04V1104.1H956.16V1125.8H957.28V1147.4H958.40V1147.4H959.53V1169.1H960.65V1147.4H961.77V1140.2H962.89V1154.6H964.01V1176.3H965.13V1169.1H966.25V1176.3H967.37V1190.7H968.50V1190.7H969.62V1190.7H970.74V1197.9H971.86V1190.7H972.98V1190.7H974.10V1190.7H975.22V1190.7H976.34V1190.7H977.46V1190.7H978.59V1190.7H979.71V1190.7H980.83V1190.7H981.95V1183.5H983.07V1183.5H984.19V1176.3H985.31V1133.0H986.43V1133.0H987.56V1125.8H988.68V1125.8H989.80V1140.2H990.92V1154.6H992.04V1154.6H993.16V1147.4H994.28V1140.2H995.40V1147.4H996.52V1161.8H997.65V1176.3H998.77V1169.1H999.89V1176.3H1001.01V1190.7H1002.13V1176.3H1003.25V1190.7H1004.37V1190.7H1005.49V1190.7H1006.62V1197.9H1007.74V1205.1H1008.86V1219.6H1009.98V1219.6H1011.10V1219.6H1012.22V1219.6H1013.34V1219.6H1014.46V1212.4H1015.58V1219.6H1016.71V1219.6H1017.83V1219.6H1018.95V1219.6H1020.07V1219.6H1021.19V1219.6H1022.31V1219.6H1023.43V1219.6H1024.55V1219.6H1025.68V1219.6H1026.80V1219.6H1027.92V1219.6H1029.04V1320.5ZM1205.06 1320.5V1205.1H1206.19V1205.1H1207.31V1205.1H1208.43V1205.1H1209.55V1205.1H1210.67V1212.4H1211.79V1212.4H1212.91V1212.4H1214.03V1212.4H1215.16V1212.4H1216.28V1147.4H1217.40V1161.8H1218.52V1183.5H1219.64V1161.8H1220.76V1118.6H1221.88V1060.8H1223.00V981.4H1224.12V981.4H1225.25V967.0H1226.37V974.2H1227.49V1024.7H1228.61V1082.5H1229.73V1096.9H1230.85V1096.9H1231.97V1032.0H1233.09V1060.8H1234.22V1068.0H1235.34V1104.1H1236.46V1125.8H1237.58V1147.4H1238.70V1154.6H1239.82V1161.8H1240.94V1161.8H1242.06V1161.8H1243.18V1161.8H1244.31V1190.7H1245.43V1176.3H1246.55V1176.3H1247.67V1176.3H1248.79V1176.3H1249.91V1176.3H1251.03V1169.1H1252.15V1176.3H1253.28V1176.3H1254.40V1176.3H1255.52V1176.3H1256.64V1183.5H1257.76V1183.5H1258.88V1190.7H1260.00V1176.3H1261.12V1176.3H1262.24V1176.3H1263.37V1176.3H1264.49V1176.3H1265.61V1183.5H1266.73V1183.5H1267.85V1190.7H1268.97V1183.5H1270.09V1183.5H1271.21V1183.5H1272.34V1197.9H1273.46V1190.7H1274.58V1190.7H1275.70V1197.9H1276.82V1183.5H1277.94V1190.7H1279.06V1190.7H1280.18V1190.7H1281.30V1183.5H1282.43V1183.5H1283.55V1197.9H1284.67V1197.9H1285.79V1197.9H1286.91V1176.3H1288.03V1190.7H1289.15V1176.3H1290.27V1169.1H1291.40V1169.1H1292.52V1169.1H1293.64V1183.5H1294.76V1176.3H1295.88V1183.5H1297.00V1205.1H1298.12V1190.7H1299.24V1183.5H1300.36V1183.5H1301.49V1197.9H1302.61V1205.1H1303.73V1190.7H1304.85V1197.9H1305.97V1147.4H1307.09V1089.7H1308.21V1082.5H1309.33V1082.5H1310.46V1089.7H1311.58V1111.3H1312.70V1147.4H1313.82V1161.8H1314.94V1147.4H1316.06V1133.0H1317.18V1176.3H1318.30V1161.8H1319.42V1154.6H1320.55V1161.8H1321.67V1183.5H1322.79V1197.9H1323.91V1205.1H1325.03V1140.2H1326.15V1104.1H1327.27V1096.9H1328.39V1140.2H1329.52V1169.1H1330.64V1176.3H1331.76V1089.7H1332.88V1096.9H1334.00V1096.9H1335.12V1118.6H1336.24V1104.1H1337.36V1125.8H1338.48V1212.4H1339.61V1212.4H1340.73V1212.4H1341.85V1212.4H1342.97V1212.4H1344.09V1212.4H1345.21V1212.4H1346.33V1212.4H1347.45V1212.4H1348.58V1212.4H1349.70V1212.4H1350.82V1212.4H1351.94V1320.5ZM1527.96 1320.5V1212.4H1529.09V1212.4H1530.21V1212.4H1531.33V1212.4H1532.45V1212.4H1533.57V1205.1H1534.69V1212.4H1535.81V1212.4H1536.93V1212.4H1538.06V1212.4H1539.18V1197.9H1540.30V1190.7H1541.42V1176.3H1542.54V1154.6H1543.66V1133.0H1544.78V1125.8H1545.90V1104.1H1547.02V1125.8H1548.15V1140.2H1549.27V1154.6H1550.39V1169.1H1551.51V1161.8H1552.63V1183.5H1553.75V1183.5H1554.87V1176.3H1555.99V1176.3H1557.12V1190.7H1558.24V1183.5H1559.36V1190.7H1560.48V1197.9H1561.60V1183.5H1562.72V1197.9H1563.84V1183.5H1564.96V1176.3H1566.08V1176.3H1567.21V1176.3H1568.33V1176.3H1569.45V1183.5H1570.57V1183.5H1571.69V1190.7H1572.81V1176.3H1573.93V1176.3H1575.05V1176.3H1576.18V1183.5H1577.30V1176.3H1578.42V1176.3H1579.54V1183.5H1580.66V1096.9H1581.78V1096.9H1582.90V1089.7H1584.02V1169.1H1585.14V1183.5H1586.27V1183.5H1587.39V1176.3H1588.51V1176.3H1589.63V1176.3H1590.75V1190.7H1591.87V1169.1H1592.99V1169.1H1594.11V1176.3H1595.24V1169.1H1596.36V1176.3H1597.48V1176.3H1598.60V1176.3H1599.72V1176.3H1600.84V1176.3H1601.96V1176.3H1603.08V1176.3H1604.20V1176.3H1605.33V1183.5H1606.45V1183.5H1607.57V1183.5H1608.69V1197.9H1609.81V1197.9H1610.93V1205.1H1612.05V1205.1H1613.17V1212.4H1614.30V1212.4H1615.42V1205.1H1616.54V1205.1H1617.66V1205.1H1618.78V1212.4H1619.90V1212.4H1621.02V1205.1H1622.14V1205.1H1623.26V1205.1H1624.39V1205.1H1625.51V1212.4H1626.63V1212.4H1627.75V1212.4H1628.87V1212.4H1629.99V1212.4H1631.11V1190.7H1632.23V1161.8H1633.36V1068.0H1634.48V988.7H1635.60V995.9H1636.72V1068.0H1637.84V1060.8H1638.96V1053.6H1640.08V1068.0H1641.20V1082.5H1642.32V1118.6H1643.45V1118.6H1644.57V1118.6H1645.69V1068.0H1646.81V1169.1H1647.93V1197.9H1649.05V1205.1H1650.17V1205.1H1651.29V1205.1H1652.42V1205.1H1653.54V1205.1H1654.66V1205.1H1655.78V1205.1H1656.90V1205.1H1658.02V1205.1H1659.14V1205.1H1660.26V1205.1H1661.38V1212.4H1662.51V1212.4H1663.63V1205.1H1664.75V1205.1H1665.87V1205.1H1666.99V1205.1H1668.11V1212.4H1669.23V1212.4H1670.35V1212.4H1671.48V1212.4H1672.60V1212.4H1673.72V1212.4H1674.84V1320.5ZM1850.86 1320.5V1205.1H1851.99V1197.9H1853.11V1205.1H1854.23V1205.1H1855.35V1197.9H1856.47V1205.1H1857.59V1205.1H1858.71V1205.1H1859.83V1205.1H1860.96V1205.1H1862.08V1205.1H1863.20V1205.1H1864.32V1205.1H1865.44V1205.1H1866.56V1118.6H1867.68V1104.1H1868.80V1096.9H1869.92V1111.3H1871.05V1118.6H1872.17V1133.0H1873.29V1111.3H1874.41V1147.4H1875.53V1147.4H1876.65V1140.2H1877.77V1111.3H1878.89V1075.3H1880.02V1060.8H1881.14V1039.2H1882.26V1060.8H1883.38V1096.9H1884.50V1125.8H1885.62V1140.2H1886.74V1133.0H1887.86V1125.8H1888.98V1125.8H1890.11V1125.8H1891.23V1147.4H1892.35V1169.1H1893.47V1176.3H1894.59V1169.1H1895.71V1161.8H1896.83V1161.8H1897.95V952.6H1899.08V995.9H1900.20V1039.2H1901.32V1060.8H1902.44V1075.3H1903.56V1089.7H1904.68V1118.6H1905.80V1133.0H1906.92V1140.2H1908.04V1140.2H1909.17V1147.4H1910.29V1147.4H1911.41V1147.4H1912.53V1161.8H1913.65V1169.1H1914.77V1161.8H1915.89V1161.8H1917.01V1169.1H1918.14V1161.8H1919.26V1161.8H1920.38V1169.1H1921.50V1176.3H1922.62V1176.3H1923.74V1176.3H1924.86V1176.3H1925.98V1190.7H1927.10V1183.5H1928.23V1183.5H1929.35V1176.3H1930.47V1183.5H1931.59V1176.3H1932.71V1176.3H1933.83V1176.3H1934.95V1183.5H1936.07V1147.4H1937.20V1140.2H1938.32V945.4H1939.44V938.2H1940.56V945.4H1941.68V1003.1H1942.80V1053.6H1943.92V1104.1H1945.04V1089.7H1946.16V1082.5H1947.29V1111.3H1948.41V1118.6H1949.53V1118.6H1950.65V1140.2H1951.77V1161.8H1952.89V1133.0H1954.01V1104.1H1955.13V1082.5H1956.26V1075.3H1957.38V1096.9H1958.50V1096.9H1959.62V1125.8H1960.74V1154.6H1961.86V1169.1H1962.98V1176.3H1964.10V1140.2H1965.22V1125.8H1966.35V1111.3H1967.47V1104.1H1968.59V1147.4H1969.71V1147.4H1970.83V1161.8H1971.95V1176.3H1973.07V1197.9H1974.19V1205.1H1975.32V1219.6H1976.44V1219.6H1977.56V1212.4H1978.68V1212.4H1979.80V1219.6H1980.92V1219.6H1982.04V1219.6H1983.16V1219.6H1984.28V1219.6H1985.41V1219.6H1986.53V1219.6H1987.65V1219.6H1988.77V1219.6H1989.89V1219.6H1991.01V1219.6H1992.13V1219.6H1993.25V1219.6H1994.38V1219.6H1995.50V1219.6H1996.62V1219.6H1997.74V1320.5ZM2173.76 1320.5V1205.1H2174.89V1219.6H2176.01V1205.1H2177.13V1212.4H2178.25V1205.1H2179.37V1219.6H2180.49V1205.1H2181.61V1212.4H2182.73V1212.4H2183.86V1205.1H2184.98V1212.4H2186.10V1212.4H2187.22V1212.4H2188.34V1205.1H2189.46V1190.7H2190.58V1068.0H2191.70V1133.0H2192.82V1118.6H2193.95V1147.4H2195.07V1183.5H2196.19V1176.3H2197.31V1183.5H2198.43V1183.5H2199.55V1169.1H2200.67V1205.1H2201.79V1161.8H2202.92V1190.7H2204.04V1190.7H2205.16V1183.5H2206.28V1197.9H2207.40V1183.5H2208.52V1176.3H2209.64V1197.9H2210.76V1183.5H2211.88V1176.3H2213.01V1205.1H2214.13V1176.3H2215.25V1176.3H2216.37V1183.5H2217.49V1183.5H2218.61V1154.6H2219.73V880.4H2220.85V1003.1H2221.98V1039.2H2223.10V1046.4H2224.22V1125.8H2225.34V1125.8H2226.46V1147.4H2227.58V1161.8H2228.70V1140.2H2229.82V1154.6H2230.94V1176.3H2232.07V1140.2H2233.19V1169.1H2234.31V1205.1H2235.43V1183.5H2236.55V1176.3H2237.67V1219.6H2238.79V1176.3H2239.91V1183.5H2241.04V1212.4H2242.16V1176.3H2243.28V1190.7H2244.40V1205.1H2245.52V1190.7H2246.64V1183.5H2247.76V1205.1H2248.88V1140.2H2250.00V1140.2H2251.13V1140.2H2252.25V1161.8H2253.37V1147.4H2254.49V1147.4H2255.61V1183.5H2256.73V1140.2H2257.85V1147.4H2258.97V1111.3H2260.10V938.2H2261.22V959.8H2262.34V1104.1H2263.46V1068.0H2264.58V1133.0H2265.70V1147.4H2266.82V1075.3H2267.94V1089.7H2269.06V844.3H2270.19V930.9H2271.31V1032.0H2272.43V1147.4H2273.55V1161.8H2274.67V1154.6H2275.79V1212.4H2276.91V1241.2H2278.03V1248.4H2279.16V1262.9H2280.28V1169.1H2281.40V1183.5H2282.52V1255.7H2283.64V1270.1H2284.76V1205.1H2285.88V1176.3H2287.00V1176.3H2288.12V1176.3H2289.25V1183.5H2290.37V1176.3H2291.49V1197.9H2292.61V1255.7H2293.73V1277.3H2294.85V1241.2H2295.97V1248.4H2297.09V1270.1H2298.22V1248.4H2299.34V1277.3H2300.46V1313.4H2301.58V1306.2H2302.70V1313.4H2303.82V1306.2H2304.94V1313.4H2306.06V1306.2H2307.18V1313.4H2308.31V1306.2H2309.43V1313.4H2310.55V1306.2H2311.67V1313.4H2312.79V1313.4H2313.91V1306.2H2315.03V1320.5Z" fill="#22906f"/></g><rect x="154.1" y="815.4" width="1.4" height="506.6" fill="#555"/><rect x="155.0" y="1320.8" width="2261.5" height="1.4" fill="#555"/><rect x="143.5" y="1320" width="11" height="1" fill="#888"/><rect x="143.5" y="1248" width="11" height="1" fill="#888"/><rect x="143.5" y="1176" width="11" height="1" fill="#888"/><rect x="143.5" y="1104" width="11" height="1" fill="#888"/><rect x="143.5" y="1031" width="11" height="1" fill="#888"/><rect x="143.5" y="959" width="11" height="1" fill="#888"/><rect x="143.5" y="887" width="11" height="1" fill="#888"/><rect x="143.5" y="815" width="11" height="1" fill="#888"/><rect x="155.60" y="1322" width="1.2" height="10" fill="#c0c0c0"/><rect x="478.50" y="1322" width="1.2" height="10" fill="#c0c0c0"/><rect x="801.40" y="1322" width="1.2" height="10" fill="#c0c0c0"/><rect x="1124.30" y="1322" width="1.2" height="10" fill="#c0c0c0"/><rect x="1447.20" y="1322" width="1.2" height="10" fill="#c0c0c0"/><rect x="1770.10" y="1322" width="1.2" height="10" fill="#c0c0c0"/><rect x="2093.00" y="1322" width="1.2" height="10" fill="#c0c0c0"/><g transform="matrix(1.08000 0 0 1.05000 -9.660 -67.400)"><text x="133" y="1327.9" font-family='"Liberation Sans", sans-serif' font-size="20.5" font-weight="normal" text-anchor="end" style="white-space:pre"  stroke="#333" stroke-width="0.45" fill="#333">0</text></g><g transform="matrix(1.18000 0 0 1.05000 -22.860 -63.800)"><text x="133" y="1255.7" font-family='"Liberation Sans", sans-serif' font-size="20.5" font-weight="normal" text-anchor="end" style="white-space:pre"  stroke="#333" stroke-width="0.45" fill="#333">10</text></g><g transform="matrix(1.12381 0 0 1.05000 -15.443 -60.200)"><text x="133" y="1183.6" font-family='"Liberation Sans", sans-serif' font-size="20.5" font-weight="normal" text-anchor="end" style="white-space:pre"  stroke="#333" stroke-width="0.45" fill="#333">20</text></g><g transform="matrix(1.12381 0 0 1.05000 -15.443 -55.550)"><text x="133" y="1111.4" font-family='"Liberation Sans", sans-serif' font-size="20.5" font-weight="normal" text-anchor="end" style="white-space:pre"  stroke="#333" stroke-width="0.45" fill="#333">30</text></g><g transform="matrix(1.07273 0 0 1.05000 -8.700 -52.950)"><text x="133" y="1039.3" font-family='"Liberation Sans", sans-serif' font-size="20.5" font-weight="normal" text-anchor="end" style="white-space:pre"  stroke="#333" stroke-width="0.45" fill="#333">40</text></g><g transform="matrix(1.12381 0 0 1.05000 -15.443 -49.350)"><text x="133" y="967.1" font-family='"Liberation Sans", sans-serif' font-size="20.5" font-weight="normal" text-anchor="end" style="white-space:pre"  stroke="#333" stroke-width="0.45" fill="#333">50</text></g><g transform="matrix(1.12381 0 0 1.05000 -15.443 -45.750)"><text x="133" y="894.9" font-family='"Liberation Sans", sans-serif' font-size="20.5" font-weight="normal" text-anchor="end" style="white-space:pre"  stroke="#333" stroke-width="0.45" fill="#333">60</text></g><g transform="matrix(1.12381 0 0 1.05000 -15.443 -42.150)"><text x="133" y="822.8" font-family='"Liberation Sans", sans-serif' font-size="20.5" font-weight="normal" text-anchor="end" style="white-space:pre"  stroke="#333" stroke-width="0.45" fill="#333">70</text></g><g transform="matrix(0.96111 0 0 0.90313 3.444 104.519)"><text transform="translate(86,1067) rotate(-90)" font-family='"Liberation Sans", sans-serif' font-size="23" font-weight="normal" text-anchor="middle" style="white-space:pre"  stroke="#333" stroke-width="0.4" fill="#333">kW</text></g><g transform="matrix(1.12222 0 0 1.00000 -19.267 -0.900)"><text x="156.2" y="1356.9" font-family='"Liberation Sans", sans-serif' font-size="20.5" font-weight="normal" text-anchor="middle" style="white-space:pre"  stroke="#111" stroke-width="0.45" fill="#111">sam. 24</text></g><g transform="matrix(1.14545 0 0 1.00000 -70.273 0.100)"><text x="479.1" y="1356.9" font-family='"Liberation Sans", sans-serif' font-size="20.5" font-weight="normal" text-anchor="middle" style="white-space:pre"  stroke="#111" stroke-width="0.45" fill="#111">dim. 25</text></g><g transform="matrix(1.14500 0 0 1.00000 -116.440 0.100)"><text x="802.0" y="1356.9" font-family='"Liberation Sans", sans-serif' font-size="20.5" font-weight="normal" text-anchor="middle" style="white-space:pre"  stroke="#111" stroke-width="0.45" fill="#111">lun. 26</text></g><g transform="matrix(1.10597 0 0 1.00000 -120.319 -0.900)"><text x="1124.9" y="1356.9" font-family='"Liberation Sans", sans-serif' font-size="20.5" font-weight="normal" text-anchor="middle" style="white-space:pre"  stroke="#111" stroke-width="0.45" fill="#111">mar. 27</text></g><g transform="matrix(1.13182 0 0 1.00000 -191.823 -0.900)"><text x="1447.8" y="1356.9" font-family='"Liberation Sans", sans-serif' font-size="20.5" font-weight="normal" text-anchor="middle" style="white-space:pre"  stroke="#111" stroke-width="0.45" fill="#111">mer. 28</text></g><g transform="matrix(1.13710 0 0 1.00000 -242.711 0.100)"><text x="1770.7" y="1356.9" font-family='"Liberation Sans", sans-serif' font-size="20.5" font-weight="normal" text-anchor="middle" style="white-space:pre"  stroke="#111" stroke-width="0.45" fill="#111">jeu. 29</text></g><g transform="matrix(1.10597 0 0 1.00000 -221.799 -0.900)"><text x="2093.6" y="1356.9" font-family='"Liberation Sans", sans-serif' font-size="20.5" font-weight="normal" text-anchor="middle" style="white-space:pre"  stroke="#111" stroke-width="0.45" fill="#111">ven. 30</text></g><rect x="1996" y="50" width="409" height="48" rx="8" fill="#000" opacity="0.18" filter="url(#sh)"/><rect x="1990" y="44" width="415" height="54" rx="8" fill="#fff"/><g transform="matrix(1.00058 0 0 1.00000 -3.229 0.500)"><text x="2112" y="89" font-family='"Liberation Sans", sans-serif' font-size="26" font-weight="bold" text-anchor="start" style="white-space:pre"  stroke="#000" stroke-width="0.3" fill="#000">LHB-site-L345</text></g><rect x="1992.0" y="107.8" width="412.0" height="58.3" rx="9" fill="#fff" stroke="#7f7f7f" stroke-width="3"/><g transform="matrix(0.99872 0 0 1.00000 1.432 -1.600)"><text x="2052" y="148.5" font-family='"Liberation Sans", sans-serif' font-size="28" font-weight="normal" text-anchor="start" style="white-space:pre"  stroke="#000" stroke-width="0.4" fill="#000">Consommation: 432 kWh</text></g><rect x="1992.0" y="177.8" width="412.0" height="58.29999999999998" rx="9" fill="#fff" stroke="#7f7f7f" stroke-width="3"/><g transform="matrix(1.00000 0 0 1.00000 -2.000 -1.800)"><text x="2114" y="218.5" font-family='"Liberation Sans", sans-serif' font-size="28" font-weight="normal" text-anchor="start" style="white-space:pre"  stroke="#000" stroke-width="0.4" fill="#000">P Max :  66 kW</text></g><rect x="1992.0" y="247.8" width="412.0" height="58.30000000000001" rx="9" fill="#fff" stroke="#7f7f7f" stroke-width="3"/><g transform="matrix(1.02564 0 0 1.00000 -56.615 -1.400)"><text x="2128" y="288.5" font-family='"Liberation Sans", sans-serif' font-size="28" font-weight="normal" text-anchor="start" style="white-space:pre"  stroke="#000" stroke-width="0.4" fill="#000">P min : 1 kW</text></g><rect x="561.9" y="805.8" width="412.20000000000005" height="58.0" rx="9" fill="#fff" stroke="#7f7f7f" stroke-width="3"/><g transform="matrix(0.99881 0 0 1.00000 -0.669 -0.200)"><text x="611" y="846" font-family='"Liberation Sans", sans-serif' font-size="28" font-weight="normal" text-anchor="start" style="white-space:pre"  stroke="#000" stroke-width="0.4" fill="#000">Consommation: 2 925 kWh</text></g><rect x="1100.1" y="805.8" width="412.20000000000005" height="58.0" rx="9" fill="#fff" stroke="#7f7f7f" stroke-width="3"/><g transform="matrix(0.99787 0 0 1.00000 0.904 -0.200)"><text x="1222" y="846" font-family='"Liberation Sans", sans-serif' font-size="28" font-weight="normal" text-anchor="start" style="white-space:pre"  stroke="#000" stroke-width="0.4" fill="#000">P Max :  66 kW</text></g><rect x="1610.1" y="805.8" width="412.20000000000005" height="58.0" rx="9" fill="#fff" stroke="#7f7f7f" stroke-width="3"/><g transform="matrix(1.01667 0 0 1.00000 -31.150 -0.200)"><text x="1747" y="846" font-family='"Liberation Sans", sans-serif' font-size="28" font-weight="normal" text-anchor="start" style="white-space:pre"  stroke="#000" stroke-width="0.4" fill="#000">P min : 1 kW</text></g><rect x="1048" y="542.6" width="521.4" height="69.4" rx="10" fill="#fff" fill-opacity="0.9"/><g transform="matrix(1.08815 0 0 1.00000 -99.357 -0.800)"><text x="1126" y="588.8" font-family='"Liberation Sans", sans-serif' font-size="30" font-weight="bold" text-anchor="start" style="white-space:pre"  stroke="#0a0a0a" stroke-width="0.3" fill="#0a0a0a">vendredi 30 janvier 2026</text></g><rect x="176.5" y="49" width="481.5" height="77.6" fill="#0b0b18"/><linearGradient id="ecoE" gradientUnits="userSpaceOnUse" x1="0" y1="79" x2="0" y2="111"><stop offset="0.69" stop-color="#00f4cc"/><stop offset="0.70" stop-color="#00c4a2"/></linearGradient><linearGradient id="ecoC" gradientUnits="userSpaceOnUse" x1="0" y1="79" x2="0" y2="111"><stop offset="0.44" stop-color="#00f4cc"/><stop offset="0.45" stop-color="#00a88c"/><stop offset="0.66" stop-color="#00aa8e"/><stop offset="0.67" stop-color="#00c4a2"/></linearGradient><g fill="none" stroke-linecap="round" stroke-linejoin="round"><path d="M198.8 74.6 L205.2 71.6" stroke="#00f4cc" stroke-width="5.6"/><path d="M192.2 94.4 H211.4 A9.7 12.2 0 1 0 209.6 102.6" stroke="url(#ecoE)" stroke-width="6.8"/><path d="M236.8 86.6 A9.2 12.2 0 1 0 236.8 102.6" stroke="url(#ecoC)" stroke-width="6.8"/><ellipse cx="257.1" cy="94.7" rx="10.4" ry="12.2" stroke="url(#ecoC)" stroke-width="6.8"/><path d="M275.8 86.4 L283.4 107.6 L291.4 80.9 L299.2 107.6 L313.8 68.6" stroke="#fff" stroke-width="6.6"/><path d="M316.4 86.2 Q325.5 77.8 335.2 88.5 V107.6" stroke="#fff" stroke-width="6.6"/><ellipse cx="325" cy="100.8" rx="10" ry="6.9" stroke="#fff" stroke-width="6.6"/><path d="M346.4 75.2 V101 Q346.6 107.6 353.4 107.6 M361.8 75.2 V101 Q362 107.6 369 107.6 M342.8 81.6 H371.8" stroke="#fff" stroke-width="6.6"/></g><ellipse cx="433.8" cy="88.8" rx="25.6" ry="28" fill="#00b4e2"/><path d="M420.3 96.6 V80.8 H425.3 Q430 80.8 430 85.2 Q430 89.7 425.3 89.7 M425.8 89.7 L430.5 96.6 M419.2 89.7 H450.4 M436.2 83.3 V94.2 Q436.2 96.4 438.6 96.4 H440.3 M450 89.7 C450 85.5 447.6 83.4 444.9 83.4 C442.1 83.4 440.1 86 440.1 89.7 C440.1 93.8 442.4 96.4 445.6 96.4 H450.4" fill="none" stroke="#f4fbfd" stroke-width="2.2"/><rect x="546" y="61.4" width="101" height="56" fill="#fff"/><rect x="553" y="68.2" width="7" height="7.4" fill="#2a3b8f"/><rect x="564.5" y="68.2" width="7" height="7.4" fill="#e3202a"/><rect x="607.4" y="66.6" width="34.2" height="44.9" fill="#fff" stroke="#5a86c8" stroke-width="1.6"/><circle cx="624.3" cy="87.2" r="8.4" fill="#1f4ea6"/><path d="M617.5 84 q3 -2 5 1 q2 3 -1 6 q-2 2 1 4.5 M627 80.5 q3 2 2 5 q-1 2 2 4" stroke="#9aaae0" stroke-width="2.2" fill="none"/><rect x="611.6" y="99.8" width="25.4" height="1.7" fill="#ea4a52" opacity="0.6"/><rect x="611.6" y="103.2" width="25.4" height="1.7" fill="#ea4a52" opacity="0.6"/><rect x="611.6" y="106.6" width="25.4" height="1.7" fill="#ea4a52" opacity="0.6"/><rect x="553" y="98.0" width="12" height="1.4" fill="#777" opacity="0.6"/><rect x="553" y="102.6" width="11" height="1.4" fill="#777" opacity="0.6"/><rect x="553" y="107.2" width="15" height="1.4" fill="#777" opacity="0.6"/><g fill="#dadada"><rect x="169.3" y="135.4" width="491.4" height="3.1"/><rect x="169.3" y="253.4" width="491.4" height="5.2"/><rect x="169.3" y="189.2" width="491.4" height="5.2"/><rect x="169.3" y="135.4" width="3.1" height="123.2"/><rect x="289" y="135.4" width="5" height="123.2"/><rect x="411.6" y="135.4" width="5.199999999999989" height="123.2"/><rect x="533.4" y="135.4" width="5.2000000000000455" height="123.2"/><rect x="655.6" y="135.4" width="5.100000000000023" height="123.2"/></g><svg x="180.2" y="195.2" width="105.6" height="54.6" viewBox="0 0 105.6 54.6" preserveAspectRatio="none"><rect width="105.6" height="54.6" fill="url(#wv)"/><path d="M16.6 0 C24 4 38 13 50 19 C60 23.5 72 25 82 23.5 C92 22 100 18 105.6 15.7 V2.3 C101 3.5 96 5.5 90 8 C82 11 72 11.8 62 10 C50 7.5 38 3 29.5 0 Z" fill="#00f0c8"/><path d="M29.5 0 C38 3 50 7.5 62 10 C72 11.8 82 11 90 8 C96 5.5 101 3.5 105.6 2.3 V0 Z" fill="#00a48a"/></svg><svg x="301.8" y="196.2" width="106.2" height="55.6" viewBox="0 0 105.6 54.6" preserveAspectRatio="none"><rect width="105.6" height="54.6" fill="url(#wv)"/><path d="M16.6 0 C24 4 38 13 50 19 C60 23.5 72 25 82 23.5 C92 22 100 18 105.6 15.7 V2.3 C101 3.5 96 5.5 90 8 C82 11 72 11.8 62 10 C50 7.5 38 3 29.5 0 Z" fill="#00f0c8"/><path d="M29.5 0 C38 3 50 7.5 62 10 C72 11.8 82 11 90 8 C96 5.5 101 3.5 105.6 2.3 V0 Z" fill="#00a48a"/></svg><svg x="424.2" y="196.2" width="106.1" height="55.6" viewBox="0 0 105.6 54.6" preserveAspectRatio="none"><rect width="105.6" height="54.6" fill="url(#wv)"/><path d="M16.6 0 C24 4 38 13 50 19 C60 23.5 72 25 82 23.5 C92 22 100 18 105.6 15.7 V2.3 C101 3.5 96 5.5 90 8 C82 11 72 11.8 62 10 C50 7.5 38 3 29.5 0 Z" fill="#00f0c8"/><path d="M29.5 0 C38 3 50 7.5 62 10 C72 11.8 82 11 90 8 C96 5.5 101 3.5 105.6 2.3 V0 Z" fill="#00a48a"/></svg><svg x="544.3" y="196.2" width="105.6" height="55.6" viewBox="0 0 105.6 54.6" preserveAspectRatio="none"><rect width="105.6" height="54.6" fill="url(#wv)"/><path d="M16.6 0 C24 4 38 13 50 19 C60 23.5 72 25 82 23.5 C92 22 100 18 105.6 15.7 V2.3 C101 3.5 96 5.5 90 8 C82 11 72 11.8 62 10 C50 7.5 38 3 29.5 0 Z" fill="#00f0c8"/><path d="M29.5 0 C38 3 50 7.5 62 10 C72 11.8 82 11 90 8 C96 5.5 101 3.5 105.6 2.3 V0 Z" fill="#00a48a"/></svg><g transform="matrix(1.14286 0 0 1.04348 -31.857 -7.609)"><text x="222.5" y="175" font-family='"Liberation Sans", sans-serif' font-size="34" font-weight="normal" text-anchor="start" style="white-space:pre"  stroke="#000" stroke-width="0.25" fill="#000">J</text></g><g transform="matrix(1.14000 0 0 1.04348 -42.980 -7.609)"><text x="312" y="175" font-family='"Liberation Sans", sans-serif' font-size="34" font-weight="normal" text-anchor="start" style="white-space:pre"  stroke="#000" stroke-width="0.25" fill="#000">J</text></g><g transform="matrix(0.82353 0 0 1.11250 61.135 -18.550)"><text x="345.5" y="175" font-family='"Liberation Sans", sans-serif' font-size="34" font-weight="normal" text-anchor="start" style="white-space:pre"  stroke="#000" stroke-width="0.25" fill="#000">+</text></g><g transform="matrix(0.55000 0 0 1.04348 171.500 -7.609)"><text x="378" y="175" font-family='"Liberation Sans", sans-serif' font-size="34" font-weight="normal" text-anchor="start" style="white-space:pre"  stroke="#000" stroke-width="0.25" fill="#000">1</text></g><g transform="matrix(1.14286 0 0 1.04348 -62.143 -7.609)"><text x="434.5" y="175" font-family='"Liberation Sans", sans-serif' font-size="34" font-weight="normal" text-anchor="start" style="white-space:pre"  stroke="#000" stroke-width="0.25" fill="#000">J</text></g><g transform="matrix(0.85294 0 0 1.11250 69.524 -18.550)"><text x="467" y="175" font-family='"Liberation Sans", sans-serif' font-size="34" font-weight="normal" text-anchor="start" style="white-space:pre"  stroke="#000" stroke-width="0.25" fill="#000">+</text></g><g transform="matrix(1.03125 0 0 1.04348 -15.856 -7.609)"><text x="499.5" y="175" font-family='"Liberation Sans", sans-serif' font-size="34" font-weight="bold" text-anchor="start" style="white-space:pre"  stroke="#000" stroke-width="0.25" fill="#000">2</text></g><g transform="matrix(1.10667 0 0 1.04348 -58.607 -7.609)"><text x="556" y="175" font-family='"Liberation Sans", sans-serif' font-size="34" font-weight="normal" text-anchor="start" style="white-space:pre"  stroke="#000" stroke-width="0.25" fill="#000">J</text></g><g transform="matrix(0.81765 0 0 1.11250 108.488 -18.550)"><text x="589" y="175" font-family='"Liberation Sans", sans-serif' font-size="34" font-weight="normal" text-anchor="start" style="white-space:pre"  stroke="#000" stroke-width="0.25" fill="#000">+</text></g><g transform="matrix(1.00588 0 0 1.04348 -3.259 -7.609)"><text x="621" y="175" font-family='"Liberation Sans", sans-serif' font-size="34" font-weight="normal" text-anchor="start" style="white-space:pre"  stroke="#000" stroke-width="0.25" fill="#000">3</text></g><g transform="matrix(0.86364 0 0 1.00000 63.555 0.300)"><text x="468.6" y="79.3" font-family='"Liberation Sans", sans-serif' font-size="12.5" font-weight="normal" text-anchor="start" style="white-space:pre"  stroke="#0a92bb" stroke-width="0.35" fill="#0a92bb">Le réseau</text></g><g transform="matrix(0.91970 0 0 0.91667 37.262 7.417)"><text x="468.6" y="92" font-family='"Liberation Sans", sans-serif' font-size="12.5" font-weight="normal" text-anchor="start" style="white-space:pre"  stroke="#0a92bb" stroke-width="0.35" fill="#0a92bb">de transport</text></g><g transform="matrix(0.92459 0 0 1.00000 34.967 -0.300)"><text x="468.6" y="105.7" font-family='"Liberation Sans", sans-serif' font-size="12.5" font-weight="normal" text-anchor="start" style="white-space:pre"  stroke="#0a92bb" stroke-width="0.35" fill="#0a92bb">d'électricité</text></g><g transform="matrix(1.00698 0 0 0.73333 -3.858 21.000)"><text x="553" y="84.6" font-family='"Liberation Sans", sans-serif' font-size="6.5" font-weight="bold" text-anchor="start" style="white-space:pre"  stroke="#222" stroke-width="0.25" fill="#222">RÉPUBLIQUE</text></g><g transform="matrix(1.05526 0 0 0.98571 -30.561 0.357)"><text x="553" y="93" font-family='"Liberation Sans", sans-serif' font-size="6.5" font-weight="bold" text-anchor="start" style="white-space:pre"  stroke="#222" stroke-width="0.25" fill="#222">FRANÇAISE</text></g><g transform="matrix(1.20952 0 0 1.17500 -131.048 -13.325)"><text x="624.3" y="75" font-family='"Liberation Sans", sans-serif' font-size="6" font-weight="bold" text-anchor="middle" style="white-space:pre"  fill="#e2202a">ADEME</text></g><rect x="2322" y="1322" width="116" height="57.5" fill="#fff"/><path d="M2361.2 1344.6 A12.5 12.5 0 1 0 2361.6 1350.9 H2350.6" fill="none" stroke="#0a6fb8" stroke-width="5.4" stroke-linecap="round"/><path d="M2369.7 1350.2 A7.1 7.1 0 1 1 2382.6 1350.5 L2372 1361 H2385.8" fill="none" stroke="#0a6fb8" stroke-width="5.2" stroke-linejoin="miter" stroke-linecap="butt"/><circle cx="2369.9" cy="1350.4" r="2.6" fill="#0a6fb8"/><path d="M2391.9 1324.8 L2383.6 1338.1 L2391.5 1341.7 L2389.7 1363 L2399.9 1338.7 L2391.9 1335.3 Z" fill="#ea5b28"/><path d="M2403.3 1339.1 H2424.4 L2418.8 1344.7 H2401.1 Z M2399.1 1348.3 H2418.2 L2412.8 1353.9 H2396.9 Z M2395.3 1357.2 H2416.8 L2410.6 1363.2 H2392.9 Z" fill="#f3921f"/><text x="2393.3" y="1334.7" textLength="30.7" lengthAdjust="spacingAndGlyphs" font-family='"Liberation Sans", sans-serif' font-size="7.4" font-weight="bold" fill="#ea6a40">FRANCE</text><text x="2339.6" y="1368.4" textLength="74" lengthAdjust="spacingAndGlyphs" font-family='"Liberation Sans", sans-serif' font-size="4.6" fill="#2f7fc4" opacity="0.75">Optimisation des consommations énergétiques</text></svg>
</body></html>
